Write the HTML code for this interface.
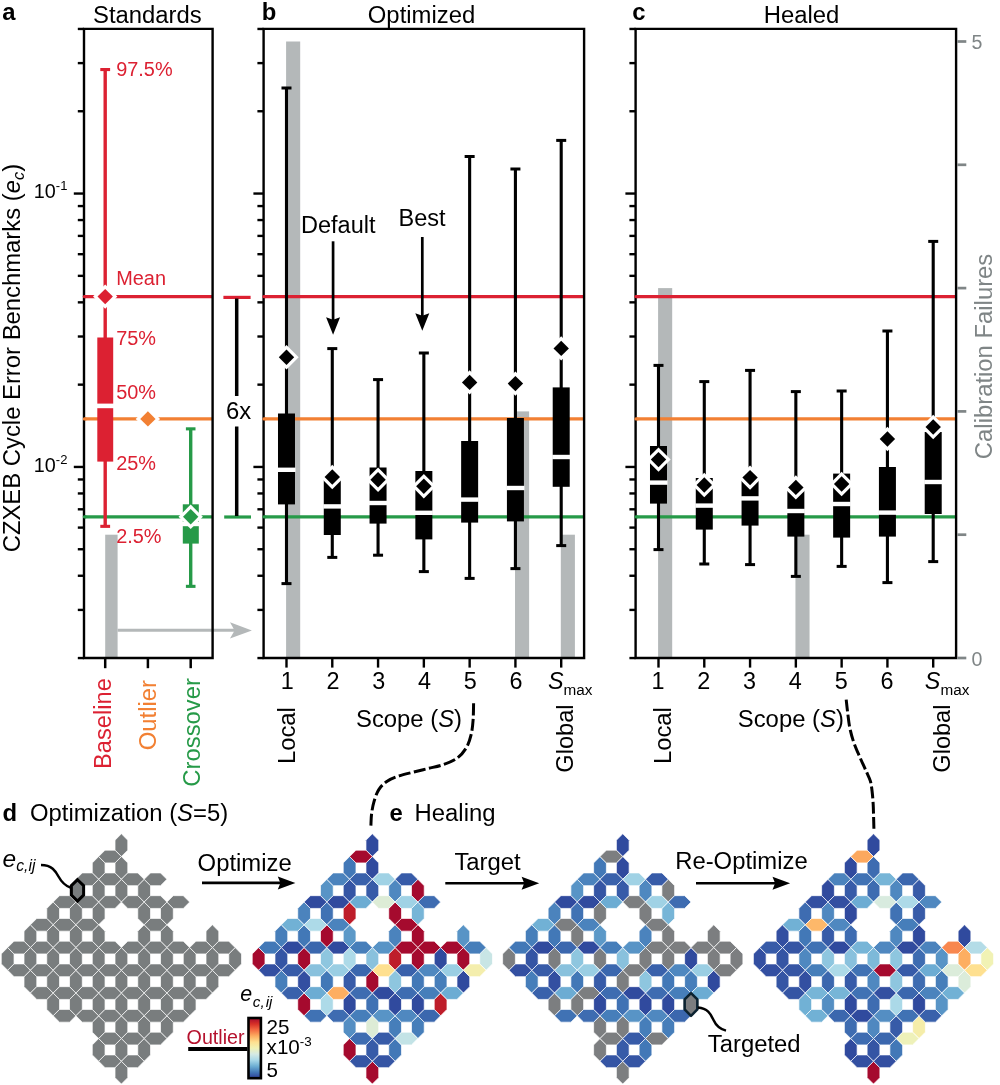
<!DOCTYPE html>
<html><head><meta charset="utf-8"><title>Figure</title>
<style>html,body{margin:0;padding:0;background:#fff}body{width:1000px;height:1085px;overflow:hidden;font-family:"Liberation Sans", sans-serif}svg text{font-family:"Liberation Sans", sans-serif}</style></head>
<body>
<svg width="1000" height="1085" viewBox="0 0 1000 1085" font-family='"Liberation Sans", sans-serif' style="display:block;will-change:transform">
<rect x="0" y="0" width="1000" height="1085" fill="#fff" />
<rect x="105.2" y="534.7" width="12.4" height="123.3" fill="#b4b8b9" />
<rect x="286.09" y="41.5" width="14.1" height="616.5" fill="#b4b8b9" />
<rect x="515.02" y="411.4" width="14.1" height="246.6" fill="#b4b8b9" />
<rect x="560.81" y="534.7" width="14.1" height="123.3" fill="#b4b8b9" />
<rect x="658.09" y="288.1" width="14.1" height="369.9" fill="#b4b8b9" />
<rect x="795.45" y="534.7" width="14.1" height="123.3" fill="#b4b8b9" />
<line x1="84" y1="296.6" x2="212.6" y2="296.6" stroke="#dc2132" stroke-width="3.3" />
<line x1="84" y1="418.9" x2="212.6" y2="418.9" stroke="#f28033" stroke-width="3.3" />
<line x1="84" y1="516.8" x2="212.6" y2="516.8" stroke="#269a48" stroke-width="3.3" />
<line x1="263.6" y1="296.6" x2="584.1" y2="296.6" stroke="#dc2132" stroke-width="3.3" />
<line x1="263.6" y1="418.9" x2="584.1" y2="418.9" stroke="#f28033" stroke-width="3.3" />
<line x1="263.6" y1="516.8" x2="584.1" y2="516.8" stroke="#269a48" stroke-width="3.3" />
<line x1="635.6" y1="296.6" x2="956.1" y2="296.6" stroke="#dc2132" stroke-width="3.3" />
<line x1="635.6" y1="418.9" x2="956.1" y2="418.9" stroke="#f28033" stroke-width="3.3" />
<line x1="635.6" y1="516.8" x2="956.1" y2="516.8" stroke="#269a48" stroke-width="3.3" />
<line x1="223.4" y1="297.4" x2="250.6" y2="297.4" stroke="#dc2132" stroke-width="3.2" />
<line x1="224.2" y1="517" x2="251" y2="517" stroke="#269a48" stroke-width="3.2" />
<line x1="236.7" y1="298.5" x2="236.7" y2="396" stroke="#000" stroke-width="3.5" />
<line x1="236.7" y1="426.5" x2="236.7" y2="516" stroke="#000" stroke-width="3.5" />
<text x="238.6" y="418.6" font-size="23.85" fill="#000" text-anchor="middle" >6x</text>
<line x1="117.6" y1="630.3" x2="236" y2="630.3" stroke="#b4b8b9" stroke-width="3" />
<polygon points="251.9,630.4 230,622.2 234.6,630.4 230,638.6" fill="#b4b8b9" />
<line x1="105.2" y1="69.5" x2="105.2" y2="526.3" stroke="#dc2132" stroke-width="3.4" />
<rect x="100.3" y="68" width="9.8" height="3.1" fill="#dc2132" />
<rect x="100.3" y="524.8" width="9.8" height="3.1" fill="#dc2132" />
<rect x="97.3" y="337.5" width="15.9" height="124.1" fill="#dc2132" />
<rect x="96.5" y="403.6" width="17.5" height="4.6" fill="#fff" />
<polygon points="105.2,284.4 117.4,296.6 105.2,308.8 93,296.6" fill="#fff" />
<polygon points="105.2,288.9 112.9,296.6 105.2,304.3 97.5,296.6" fill="#dc2132" />
<polygon points="147.9,406.7 160.1,418.9 147.9,431.1 135.7,418.9" fill="#fff" />
<polygon points="147.9,411.2 155.6,418.9 147.9,426.6 140.2,418.9" fill="#f28033" />
<line x1="190.7" y1="428.8" x2="190.7" y2="586.3" stroke="#269a48" stroke-width="3.4" />
<rect x="185.9" y="427.3" width="9.6" height="3.1" fill="#269a48" />
<rect x="185.9" y="584.8" width="9.6" height="3.1" fill="#269a48" />
<rect x="182.8" y="504.3" width="16" height="39.3" fill="#269a48" />
<rect x="182" y="521.8" width="17.6" height="4.4" fill="#fff" />
<polygon points="190.7,504.6 202.9,516.8 190.7,529 178.5,516.8" fill="#fff" />
<polygon points="190.7,509.1 198.4,516.8 190.7,524.5 183,516.8" fill="#269a48" />
<text x="116.2" y="76.3" font-size="19.9" fill="#dc2132" text-anchor="start" >97.5%</text>
<text x="116.2" y="284.9" font-size="19.9" fill="#dc2132" text-anchor="start" >Mean</text>
<text x="116.2" y="345.2" font-size="19.9" fill="#dc2132" text-anchor="start" >75%</text>
<text x="116.2" y="399" font-size="19.9" fill="#dc2132" text-anchor="start" >50%</text>
<text x="116.2" y="470" font-size="19.9" fill="#dc2132" text-anchor="start" >25%</text>
<text x="116.2" y="542.6" font-size="19.9" fill="#dc2132" text-anchor="start" >2.5%</text>
<line x1="286.49" y1="88" x2="286.49" y2="583.6" stroke="#000" stroke-width="3.1" />
<rect x="281.49" y="86.5" width="10" height="3" fill="#000" />
<rect x="281.49" y="582.1" width="10" height="3" fill="#000" />
<rect x="277.99" y="413.5" width="17" height="90.9" fill="#000" />
<rect x="277.49" y="467.6" width="18" height="4.4" fill="#fff" />
<polygon points="286.49,345.1 298.69,357.3 286.49,369.5 274.29,357.3" fill="#fff" />
<polygon points="286.49,349.6 294.19,357.3 286.49,365 278.79,357.3" fill="#000" />
<line x1="332.28" y1="348.6" x2="332.28" y2="557.4" stroke="#000" stroke-width="3.1" />
<rect x="327.28" y="347.1" width="10" height="3" fill="#000" />
<rect x="327.28" y="555.9" width="10" height="3" fill="#000" />
<rect x="323.78" y="480" width="17" height="55" fill="#000" />
<rect x="323.28" y="504.2" width="18" height="4.4" fill="#fff" />
<polygon points="332.28,464.8 344.48,477 332.28,489.2 320.08,477" fill="#fff" />
<polygon points="332.28,469.3 339.98,477 332.28,484.7 324.58,477" fill="#000" />
<line x1="378.06" y1="379.6" x2="378.06" y2="555.2" stroke="#000" stroke-width="3.1" />
<rect x="373.06" y="378.1" width="10" height="3" fill="#000" />
<rect x="373.06" y="553.7" width="10" height="3" fill="#000" />
<rect x="369.56" y="467.5" width="17" height="56.1" fill="#000" />
<rect x="369.06" y="500.8" width="18" height="4.4" fill="#fff" />
<polygon points="378.06,467.6 390.26,479.8 378.06,492 365.86,479.8" fill="#fff" />
<polygon points="378.06,472.1 385.76,479.8 378.06,487.5 370.36,479.8" fill="#000" />
<line x1="423.85" y1="353" x2="423.85" y2="571.6" stroke="#000" stroke-width="3.1" />
<rect x="418.85" y="351.5" width="10" height="3" fill="#000" />
<rect x="418.85" y="570.1" width="10" height="3" fill="#000" />
<rect x="415.35" y="471" width="17" height="68.4" fill="#000" />
<rect x="414.85" y="510.6" width="18" height="4.4" fill="#fff" />
<polygon points="423.85,474 436.05,486.2 423.85,498.4 411.65,486.2" fill="#fff" />
<polygon points="423.85,478.5 431.55,486.2 423.85,493.9 416.15,486.2" fill="#000" />
<line x1="469.64" y1="156.5" x2="469.64" y2="578.4" stroke="#000" stroke-width="3.1" />
<rect x="464.64" y="155" width="10" height="3" fill="#000" />
<rect x="464.64" y="576.9" width="10" height="3" fill="#000" />
<rect x="461.14" y="441" width="17" height="81.6" fill="#000" />
<rect x="460.64" y="497.4" width="18" height="4.4" fill="#fff" />
<polygon points="469.64,370.2 481.84,382.4 469.64,394.6 457.44,382.4" fill="#fff" />
<polygon points="469.64,374.7 477.34,382.4 469.64,390.1 461.94,382.4" fill="#000" />
<line x1="515.42" y1="169" x2="515.42" y2="568.6" stroke="#000" stroke-width="3.1" />
<rect x="510.42" y="167.5" width="10" height="3" fill="#000" />
<rect x="510.42" y="567.1" width="10" height="3" fill="#000" />
<rect x="506.92" y="418" width="17" height="103.4" fill="#000" />
<rect x="506.42" y="485.8" width="18" height="4.4" fill="#fff" />
<polygon points="515.42,371.4 527.62,383.6 515.42,395.8 503.22,383.6" fill="#fff" />
<polygon points="515.42,375.9 523.12,383.6 515.42,391.3 507.72,383.6" fill="#000" />
<line x1="561.21" y1="140.4" x2="561.21" y2="545.6" stroke="#000" stroke-width="3.1" />
<rect x="556.21" y="138.9" width="10" height="3" fill="#000" />
<rect x="556.21" y="544.1" width="10" height="3" fill="#000" />
<rect x="552.71" y="387.4" width="17" height="99.4" fill="#000" />
<rect x="552.21" y="454.8" width="18" height="4.4" fill="#fff" />
<polygon points="561.21,336.2 573.41,348.4 561.21,360.6 549.01,348.4" fill="#fff" />
<polygon points="561.21,340.7 568.91,348.4 561.21,356.1 553.51,348.4" fill="#000" />
<line x1="658.49" y1="365.4" x2="658.49" y2="549.6" stroke="#000" stroke-width="3.1" />
<rect x="653.49" y="363.9" width="10" height="3" fill="#000" />
<rect x="653.49" y="548.1" width="10" height="3" fill="#000" />
<rect x="649.99" y="446" width="17" height="57.6" fill="#000" />
<rect x="649.49" y="480.4" width="18" height="4.4" fill="#fff" />
<polygon points="658.49,447.4 670.69,459.6 658.49,471.8 646.29,459.6" fill="#fff" />
<polygon points="658.49,451.9 666.19,459.6 658.49,467.3 650.79,459.6" fill="#000" />
<line x1="704.28" y1="381.6" x2="704.28" y2="564" stroke="#000" stroke-width="3.1" />
<rect x="699.28" y="380.1" width="10" height="3" fill="#000" />
<rect x="699.28" y="562.5" width="10" height="3" fill="#000" />
<rect x="695.78" y="478" width="17" height="51.6" fill="#000" />
<rect x="695.28" y="503.4" width="18" height="4.4" fill="#fff" />
<polygon points="704.28,472.8 716.48,485 704.28,497.2 692.08,485" fill="#fff" />
<polygon points="704.28,477.3 711.98,485 704.28,492.7 696.58,485" fill="#000" />
<line x1="750.06" y1="370.4" x2="750.06" y2="564.6" stroke="#000" stroke-width="3.1" />
<rect x="745.06" y="368.9" width="10" height="3" fill="#000" />
<rect x="745.06" y="563.1" width="10" height="3" fill="#000" />
<rect x="741.56" y="480" width="17" height="45.6" fill="#000" />
<rect x="741.06" y="496.2" width="18" height="4.4" fill="#fff" />
<polygon points="750.06,465.4 762.26,477.6 750.06,489.8 737.86,477.6" fill="#fff" />
<polygon points="750.06,469.9 757.76,477.6 750.06,485.3 742.36,477.6" fill="#000" />
<line x1="795.85" y1="391.6" x2="795.85" y2="576.4" stroke="#000" stroke-width="3.1" />
<rect x="790.85" y="390.1" width="10" height="3" fill="#000" />
<rect x="790.85" y="574.9" width="10" height="3" fill="#000" />
<rect x="787.35" y="489" width="17" height="47.6" fill="#000" />
<rect x="786.85" y="508.8" width="18" height="4.4" fill="#fff" />
<polygon points="795.85,475.2 808.05,487.4 795.85,499.6 783.65,487.4" fill="#fff" />
<polygon points="795.85,479.7 803.55,487.4 795.85,495.1 788.15,487.4" fill="#000" />
<line x1="841.64" y1="391" x2="841.64" y2="566.4" stroke="#000" stroke-width="3.1" />
<rect x="836.64" y="389.5" width="10" height="3" fill="#000" />
<rect x="836.64" y="564.9" width="10" height="3" fill="#000" />
<rect x="833.14" y="473.6" width="17" height="64" fill="#000" />
<rect x="832.64" y="501.8" width="18" height="4.4" fill="#fff" />
<polygon points="841.64,471.8 853.84,484 841.64,496.2 829.44,484" fill="#fff" />
<polygon points="841.64,476.3 849.34,484 841.64,491.7 833.94,484" fill="#000" />
<line x1="887.42" y1="331" x2="887.42" y2="582.6" stroke="#000" stroke-width="3.1" />
<rect x="882.42" y="329.5" width="10" height="3" fill="#000" />
<rect x="882.42" y="581.1" width="10" height="3" fill="#000" />
<rect x="878.92" y="467" width="17" height="69.6" fill="#000" />
<rect x="878.42" y="510.4" width="18" height="4.4" fill="#fff" />
<polygon points="887.42,426.8 899.62,439 887.42,451.2 875.22,439" fill="#fff" />
<polygon points="887.42,431.3 895.12,439 887.42,446.7 879.72,439" fill="#000" />
<line x1="933.21" y1="241.4" x2="933.21" y2="561.6" stroke="#000" stroke-width="3.1" />
<rect x="928.21" y="239.9" width="10" height="3" fill="#000" />
<rect x="928.21" y="560.1" width="10" height="3" fill="#000" />
<rect x="924.71" y="432" width="17" height="82" fill="#000" />
<rect x="924.21" y="479.8" width="18" height="4.4" fill="#fff" />
<polygon points="933.21,414.8 945.41,427 933.21,439.2 921.01,427" fill="#fff" />
<polygon points="933.21,419.3 940.91,427 933.21,434.7 925.51,427" fill="#000" />
<text x="301" y="232.6" font-size="23.5" fill="#000" text-anchor="start" >Default</text>
<line x1="333.08" y1="241.3" x2="333.08" y2="320.8" stroke="#000" stroke-width="2.7" />
<polygon points="333.08,334.8 326.08,317.2 333.08,319.8 340.08,317.2" fill="#000" />
<text x="398.6" y="225.6" font-size="23.5" fill="#000" text-anchor="start" >Best</text>
<line x1="422.3" y1="237" x2="422.3" y2="316.8" stroke="#000" stroke-width="2.7" />
<polygon points="422.3,330.8 415.3,313.2 422.3,315.8 429.3,313.2" fill="#000" />
<path d="M84 658 L84 28.9 L212.6 28.9 L212.6 658 Z" fill="none" stroke="#000" stroke-width="2.4" stroke-linejoin="miter"/>
<line x1="77.8" y1="658.05" x2="84" y2="658.05" stroke="#000" stroke-width="2.4" />
<line x1="77.8" y1="609.91" x2="84" y2="609.91" stroke="#000" stroke-width="2.4" />
<line x1="77.8" y1="575.75" x2="84" y2="575.75" stroke="#000" stroke-width="2.4" />
<line x1="77.8" y1="549.25" x2="84" y2="549.25" stroke="#000" stroke-width="2.4" />
<line x1="77.8" y1="527.6" x2="84" y2="527.6" stroke="#000" stroke-width="2.4" />
<line x1="77.8" y1="509.3" x2="84" y2="509.3" stroke="#000" stroke-width="2.4" />
<line x1="77.8" y1="493.45" x2="84" y2="493.45" stroke="#000" stroke-width="2.4" />
<line x1="77.8" y1="479.46" x2="84" y2="479.46" stroke="#000" stroke-width="2.4" />
<line x1="73.8" y1="466.95" x2="84" y2="466.95" stroke="#000" stroke-width="2.4" />
<line x1="77.8" y1="384.65" x2="84" y2="384.65" stroke="#000" stroke-width="2.4" />
<line x1="77.8" y1="336.51" x2="84" y2="336.51" stroke="#000" stroke-width="2.4" />
<line x1="77.8" y1="302.35" x2="84" y2="302.35" stroke="#000" stroke-width="2.4" />
<line x1="77.8" y1="275.85" x2="84" y2="275.85" stroke="#000" stroke-width="2.4" />
<line x1="77.8" y1="254.2" x2="84" y2="254.2" stroke="#000" stroke-width="2.4" />
<line x1="77.8" y1="235.9" x2="84" y2="235.9" stroke="#000" stroke-width="2.4" />
<line x1="77.8" y1="220.05" x2="84" y2="220.05" stroke="#000" stroke-width="2.4" />
<line x1="77.8" y1="206.06" x2="84" y2="206.06" stroke="#000" stroke-width="2.4" />
<line x1="73.8" y1="193.55" x2="84" y2="193.55" stroke="#000" stroke-width="2.4" />
<line x1="77.8" y1="111.25" x2="84" y2="111.25" stroke="#000" stroke-width="2.4" />
<line x1="77.8" y1="63.11" x2="84" y2="63.11" stroke="#000" stroke-width="2.4" />
<line x1="77.8" y1="28.95" x2="84" y2="28.95" stroke="#000" stroke-width="2.4" />
<path d="M263.6 658 L263.6 28.9 L584.1 28.9 L584.1 658 Z" fill="none" stroke="#000" stroke-width="2.4" stroke-linejoin="miter"/>
<line x1="257.4" y1="658.05" x2="263.6" y2="658.05" stroke="#000" stroke-width="2.4" />
<line x1="257.4" y1="609.91" x2="263.6" y2="609.91" stroke="#000" stroke-width="2.4" />
<line x1="257.4" y1="575.75" x2="263.6" y2="575.75" stroke="#000" stroke-width="2.4" />
<line x1="257.4" y1="549.25" x2="263.6" y2="549.25" stroke="#000" stroke-width="2.4" />
<line x1="257.4" y1="527.6" x2="263.6" y2="527.6" stroke="#000" stroke-width="2.4" />
<line x1="257.4" y1="509.3" x2="263.6" y2="509.3" stroke="#000" stroke-width="2.4" />
<line x1="257.4" y1="493.45" x2="263.6" y2="493.45" stroke="#000" stroke-width="2.4" />
<line x1="257.4" y1="479.46" x2="263.6" y2="479.46" stroke="#000" stroke-width="2.4" />
<line x1="253.4" y1="466.95" x2="263.6" y2="466.95" stroke="#000" stroke-width="2.4" />
<line x1="257.4" y1="384.65" x2="263.6" y2="384.65" stroke="#000" stroke-width="2.4" />
<line x1="257.4" y1="336.51" x2="263.6" y2="336.51" stroke="#000" stroke-width="2.4" />
<line x1="257.4" y1="302.35" x2="263.6" y2="302.35" stroke="#000" stroke-width="2.4" />
<line x1="257.4" y1="275.85" x2="263.6" y2="275.85" stroke="#000" stroke-width="2.4" />
<line x1="257.4" y1="254.2" x2="263.6" y2="254.2" stroke="#000" stroke-width="2.4" />
<line x1="257.4" y1="235.9" x2="263.6" y2="235.9" stroke="#000" stroke-width="2.4" />
<line x1="257.4" y1="220.05" x2="263.6" y2="220.05" stroke="#000" stroke-width="2.4" />
<line x1="257.4" y1="206.06" x2="263.6" y2="206.06" stroke="#000" stroke-width="2.4" />
<line x1="253.4" y1="193.55" x2="263.6" y2="193.55" stroke="#000" stroke-width="2.4" />
<line x1="257.4" y1="111.25" x2="263.6" y2="111.25" stroke="#000" stroke-width="2.4" />
<line x1="257.4" y1="63.11" x2="263.6" y2="63.11" stroke="#000" stroke-width="2.4" />
<line x1="257.4" y1="28.95" x2="263.6" y2="28.95" stroke="#000" stroke-width="2.4" />
<path d="M635.6 658 L635.6 28.9 L956.1 28.9 L956.1 658 Z" fill="none" stroke="#000" stroke-width="2.4" stroke-linejoin="miter"/>
<line x1="629.4" y1="658.05" x2="635.6" y2="658.05" stroke="#000" stroke-width="2.4" />
<line x1="629.4" y1="609.91" x2="635.6" y2="609.91" stroke="#000" stroke-width="2.4" />
<line x1="629.4" y1="575.75" x2="635.6" y2="575.75" stroke="#000" stroke-width="2.4" />
<line x1="629.4" y1="549.25" x2="635.6" y2="549.25" stroke="#000" stroke-width="2.4" />
<line x1="629.4" y1="527.6" x2="635.6" y2="527.6" stroke="#000" stroke-width="2.4" />
<line x1="629.4" y1="509.3" x2="635.6" y2="509.3" stroke="#000" stroke-width="2.4" />
<line x1="629.4" y1="493.45" x2="635.6" y2="493.45" stroke="#000" stroke-width="2.4" />
<line x1="629.4" y1="479.46" x2="635.6" y2="479.46" stroke="#000" stroke-width="2.4" />
<line x1="625.4" y1="466.95" x2="635.6" y2="466.95" stroke="#000" stroke-width="2.4" />
<line x1="629.4" y1="384.65" x2="635.6" y2="384.65" stroke="#000" stroke-width="2.4" />
<line x1="629.4" y1="336.51" x2="635.6" y2="336.51" stroke="#000" stroke-width="2.4" />
<line x1="629.4" y1="302.35" x2="635.6" y2="302.35" stroke="#000" stroke-width="2.4" />
<line x1="629.4" y1="275.85" x2="635.6" y2="275.85" stroke="#000" stroke-width="2.4" />
<line x1="629.4" y1="254.2" x2="635.6" y2="254.2" stroke="#000" stroke-width="2.4" />
<line x1="629.4" y1="235.9" x2="635.6" y2="235.9" stroke="#000" stroke-width="2.4" />
<line x1="629.4" y1="220.05" x2="635.6" y2="220.05" stroke="#000" stroke-width="2.4" />
<line x1="629.4" y1="206.06" x2="635.6" y2="206.06" stroke="#000" stroke-width="2.4" />
<line x1="625.4" y1="193.55" x2="635.6" y2="193.55" stroke="#000" stroke-width="2.4" />
<line x1="629.4" y1="111.25" x2="635.6" y2="111.25" stroke="#000" stroke-width="2.4" />
<line x1="629.4" y1="63.11" x2="635.6" y2="63.11" stroke="#000" stroke-width="2.4" />
<line x1="629.4" y1="28.95" x2="635.6" y2="28.95" stroke="#000" stroke-width="2.4" />
<line x1="84.4" y1="296.6" x2="85.4" y2="296.6" stroke="#dc2132" stroke-width="3.3" stroke-linecap="round"/>
<line x1="84.4" y1="418.9" x2="85.4" y2="418.9" stroke="#f28033" stroke-width="3.3" stroke-linecap="round"/>
<line x1="84.4" y1="516.8" x2="85.4" y2="516.8" stroke="#269a48" stroke-width="3.3" stroke-linecap="round"/>
<line x1="264" y1="296.6" x2="265" y2="296.6" stroke="#dc2132" stroke-width="3.3" stroke-linecap="round"/>
<line x1="264" y1="418.9" x2="265" y2="418.9" stroke="#f28033" stroke-width="3.3" stroke-linecap="round"/>
<line x1="264" y1="516.8" x2="265" y2="516.8" stroke="#269a48" stroke-width="3.3" stroke-linecap="round"/>
<line x1="636" y1="296.6" x2="637" y2="296.6" stroke="#dc2132" stroke-width="3.3" stroke-linecap="round"/>
<line x1="636" y1="418.9" x2="637" y2="418.9" stroke="#f28033" stroke-width="3.3" stroke-linecap="round"/>
<line x1="636" y1="516.8" x2="637" y2="516.8" stroke="#269a48" stroke-width="3.3" stroke-linecap="round"/>
<line x1="105.2" y1="658" x2="105.2" y2="668.2" stroke="#000" stroke-width="2.5" />
<line x1="147.9" y1="658" x2="147.9" y2="668.2" stroke="#000" stroke-width="2.5" />
<line x1="190.7" y1="658" x2="190.7" y2="668.2" stroke="#000" stroke-width="2.5" />
<line x1="286.49" y1="658" x2="286.49" y2="667.6" stroke="#000" stroke-width="2.4" />
<line x1="658.49" y1="658" x2="658.49" y2="667.6" stroke="#000" stroke-width="2.4" />
<line x1="332.28" y1="658" x2="332.28" y2="667.6" stroke="#000" stroke-width="2.4" />
<line x1="704.28" y1="658" x2="704.28" y2="667.6" stroke="#000" stroke-width="2.4" />
<line x1="378.06" y1="658" x2="378.06" y2="667.6" stroke="#000" stroke-width="2.4" />
<line x1="750.06" y1="658" x2="750.06" y2="667.6" stroke="#000" stroke-width="2.4" />
<line x1="423.85" y1="658" x2="423.85" y2="667.6" stroke="#000" stroke-width="2.4" />
<line x1="795.85" y1="658" x2="795.85" y2="667.6" stroke="#000" stroke-width="2.4" />
<line x1="469.64" y1="658" x2="469.64" y2="667.6" stroke="#000" stroke-width="2.4" />
<line x1="841.64" y1="658" x2="841.64" y2="667.6" stroke="#000" stroke-width="2.4" />
<line x1="515.42" y1="658" x2="515.42" y2="667.6" stroke="#000" stroke-width="2.4" />
<line x1="887.42" y1="658" x2="887.42" y2="667.6" stroke="#000" stroke-width="2.4" />
<line x1="561.21" y1="658" x2="561.21" y2="667.6" stroke="#000" stroke-width="2.4" />
<line x1="933.21" y1="658" x2="933.21" y2="667.6" stroke="#000" stroke-width="2.4" />
<line x1="957.3" y1="658" x2="966.3" y2="658" stroke="#7f8586" stroke-width="2.7" />
<line x1="957.3" y1="534.7" x2="966.3" y2="534.7" stroke="#7f8586" stroke-width="2.7" />
<line x1="957.3" y1="411.4" x2="966.3" y2="411.4" stroke="#7f8586" stroke-width="2.7" />
<line x1="957.3" y1="288.1" x2="966.3" y2="288.1" stroke="#7f8586" stroke-width="2.7" />
<line x1="957.3" y1="164.8" x2="966.3" y2="164.8" stroke="#7f8586" stroke-width="2.7" />
<line x1="957.3" y1="41.5" x2="966.3" y2="41.5" stroke="#7f8586" stroke-width="2.7" />
<text x="971.6" y="665.6" font-size="19.6" fill="#7f8586" text-anchor="start" >0</text>
<text x="971.6" y="49" font-size="19.6" fill="#7f8586" text-anchor="start" >5</text>
<text x="991.6" y="356.4" font-size="23.85" fill="#7f8586" text-anchor="middle" transform="rotate(-90 991.6 356.4)" >Calibration Failures</text>
<text x="67.4" y="197.9" font-size="19.8" text-anchor="end">10<tspan font-size="13.0" dy="-7.8">-1</tspan></text>
<text x="67.4" y="471.8" font-size="19.8" text-anchor="end">10<tspan font-size="13.0" dy="-7.8">-2</tspan></text>
<text x="2.2" y="19.9" font-size="23.85" fill="#000" text-anchor="start" font-weight="bold">a</text>
<text x="147.4" y="22.8" font-size="23.85" fill="#000" text-anchor="middle" >Standards</text>
<text x="261.8" y="19.9" font-size="23.85" fill="#000" text-anchor="start" font-weight="bold">b</text>
<text x="421.5" y="22.8" font-size="23.85" fill="#000" text-anchor="middle" >Optimized</text>
<text x="632.2" y="19.9" font-size="23.85" fill="#000" text-anchor="start" font-weight="bold">c</text>
<text x="801.5" y="22.8" font-size="23.85" fill="#000" text-anchor="middle" >Healed</text>
<text x="19.8" y="358.1" font-size="23.85" text-anchor="middle" transform="rotate(-90 19.8 358.1)">CZXEB Cycle Error Benchmarks (<tspan font-style="italic">e</tspan><tspan font-style="italic" font-size="16.4" dy="4.2">c</tspan><tspan dy="-4.2">)</tspan></text>
<text x="111.1" y="678.2" font-size="23.65" fill="#dc2132" text-anchor="end" transform="rotate(-90 111.1 678.2)" >Baseline</text>
<text x="156.3" y="680" font-size="23.85" fill="#f28033" text-anchor="end" transform="rotate(-90 156.3 680)" >Outlier</text>
<text x="200.2" y="678" font-size="23.85" fill="#269a48" text-anchor="end" transform="rotate(-90 200.2 678)" >Crossover</text>
<text x="287.19" y="689.1" font-size="23.4" fill="#000" text-anchor="middle" >1</text>
<text x="332.98" y="689.1" font-size="23.4" fill="#000" text-anchor="middle" >2</text>
<text x="378.76" y="689.1" font-size="23.4" fill="#000" text-anchor="middle" >3</text>
<text x="424.55" y="689.1" font-size="23.4" fill="#000" text-anchor="middle" >4</text>
<text x="470.34" y="689.1" font-size="23.4" fill="#000" text-anchor="middle" >5</text>
<text x="516.12" y="689.1" font-size="23.4" fill="#000" text-anchor="middle" >6</text>
<text x="548.01" y="689.3" font-size="23.4"><tspan font-style="italic">S</tspan><tspan font-size="15.3" dy="5.5">max</tspan></text>
<text x="295.19" y="764.1" font-size="23.85" fill="#000" text-anchor="start" transform="rotate(-90 295.19 764.1)" >Local</text>
<text x="572.91" y="772.7" font-size="23.6" fill="#000" text-anchor="start" transform="rotate(-90 572.91 772.7)" >Global</text>
<text x="657.99" y="689.1" font-size="23.4" fill="#000" text-anchor="middle" >1</text>
<text x="703.78" y="689.1" font-size="23.4" fill="#000" text-anchor="middle" >2</text>
<text x="749.56" y="689.1" font-size="23.4" fill="#000" text-anchor="middle" >3</text>
<text x="795.35" y="689.1" font-size="23.4" fill="#000" text-anchor="middle" >4</text>
<text x="841.14" y="689.1" font-size="23.4" fill="#000" text-anchor="middle" >5</text>
<text x="886.92" y="689.1" font-size="23.4" fill="#000" text-anchor="middle" >6</text>
<text x="924.81" y="689.3" font-size="23.4"><tspan font-style="italic">S</tspan><tspan font-size="15.3" dy="5.5">max</tspan></text>
<text x="671.39" y="764.1" font-size="23.85" fill="#000" text-anchor="start" transform="rotate(-90 671.39 764.1)" >Local</text>
<text x="950.31" y="772.7" font-size="23.6" fill="#000" text-anchor="start" transform="rotate(-90 950.31 772.7)" >Global</text>
<text x="356" y="726.7" font-size="23.85">Scope (<tspan font-style="italic">S</tspan>)</text>
<text x="737.8" y="726.7" font-size="23.85">Scope (<tspan font-style="italic">S</tspan>)</text>
<path d="M473.6 703.2 C473.52 706 473.5 714.8 473.1 720 C472.7 725.2 472.32 729.8 471.2 734.4 C470.08 739 468.8 743.6 466.4 747.6 C464 751.6 460.8 755.52 456.8 758.4 C452.8 761.28 447.2 763.22 442.4 764.9 C437.6 766.58 432.8 767.3 428 768.5 C423.2 769.7 418.4 770.87 413.6 772.1 C408.8 773.33 403.6 774.38 399.2 775.9 C394.8 777.42 390.6 778.92 387.2 781.2 C383.8 783.48 381 786.2 378.8 789.6 C376.6 793 375.2 797.6 374 801.6 C372.8 805.6 372.12 809.6 371.6 813.6 C371.08 817.6 371.02 823.6 370.9 825.6" fill="none" stroke="#000" stroke-width="3.0" stroke-dasharray="12.03 3.5"/>
<path d="M846.2 699.7 C846.43 701.77 847.02 707.5 847.6 712.1 C848.18 716.7 848.67 722.23 849.7 727.3 C850.73 732.37 852.07 737.43 853.8 742.5 C855.53 747.57 858.02 752.87 860.1 757.7 C862.18 762.53 864.58 767.58 866.3 771.5 C868.02 775.42 869.42 777.75 870.4 781.2 C871.38 784.65 871.73 788.3 872.2 792.2 C872.67 796.1 872.97 800.45 873.2 804.6 C873.43 808.75 873.48 813.07 873.6 817.1 C873.72 821.13 873.85 826.85 873.9 828.8" fill="none" stroke="#000" stroke-width="3.0" stroke-dasharray="11.72 3.5"/>
<g>
<polygon points="121.4,833.8 127.78,840.17 127.78,850.17 121.4,856.55 115.03,850.17 115.03,840.17" fill="#797d7e" stroke="#fff" stroke-width="0.7" stroke-linejoin="miter"/>
<polygon points="98.65,856.55 105.03,862.92 105.03,872.92 98.65,879.3 92.28,872.92 92.28,862.92" fill="#797d7e" stroke="#fff" stroke-width="0.7" stroke-linejoin="miter"/>
<polygon points="121.4,856.55 127.78,862.92 127.78,872.92 121.4,879.3 115.03,872.92 115.03,862.92" fill="#797d7e" stroke="#fff" stroke-width="0.7" stroke-linejoin="miter"/>
<polygon points="75.9,879.3 82.28,885.67 82.28,895.67 75.9,902.05 69.53,895.67 69.53,885.67" fill="#797d7e" stroke="#fff" stroke-width="0.7" stroke-linejoin="miter"/>
<polygon points="98.65,879.3 105.03,885.67 105.03,895.67 98.65,902.05 92.28,895.67 92.28,885.67" fill="#797d7e" stroke="#fff" stroke-width="0.7" stroke-linejoin="miter"/>
<polygon points="121.4,879.3 127.78,885.67 127.78,895.67 121.4,902.05 115.03,895.67 115.03,885.67" fill="#797d7e" stroke="#fff" stroke-width="0.7" stroke-linejoin="miter"/>
<polygon points="144.15,879.3 150.53,885.67 150.53,895.67 144.15,902.05 137.78,895.67 137.78,885.67" fill="#797d7e" stroke="#fff" stroke-width="0.7" stroke-linejoin="miter"/>
<polygon points="53.15,902.05 59.52,908.42 59.52,918.42 53.15,924.8 46.77,918.42 46.77,908.42" fill="#797d7e" stroke="#fff" stroke-width="0.7" stroke-linejoin="miter"/>
<polygon points="75.9,902.05 82.28,908.42 82.28,918.42 75.9,924.8 69.53,918.42 69.53,908.42" fill="#797d7e" stroke="#fff" stroke-width="0.7" stroke-linejoin="miter"/>
<polygon points="98.65,902.05 105.03,908.42 105.03,918.42 98.65,924.8 92.28,918.42 92.28,908.42" fill="#797d7e" stroke="#fff" stroke-width="0.7" stroke-linejoin="miter"/>
<polygon points="144.15,902.05 150.53,908.42 150.53,918.42 144.15,924.8 137.78,918.42 137.78,908.42" fill="#797d7e" stroke="#fff" stroke-width="0.7" stroke-linejoin="miter"/>
<polygon points="166.9,902.05 173.28,908.42 173.28,918.42 166.9,924.8 160.53,918.42 160.53,908.42" fill="#797d7e" stroke="#fff" stroke-width="0.7" stroke-linejoin="miter"/>
<polygon points="30.4,924.8 36.77,931.17 36.77,941.17 30.4,947.55 24.02,941.17 24.02,931.17" fill="#797d7e" stroke="#fff" stroke-width="0.7" stroke-linejoin="miter"/>
<polygon points="53.15,924.8 59.52,931.17 59.52,941.17 53.15,947.55 46.77,941.17 46.77,931.17" fill="#797d7e" stroke="#fff" stroke-width="0.7" stroke-linejoin="miter"/>
<polygon points="75.9,924.8 82.28,931.17 82.28,941.17 75.9,947.55 69.53,941.17 69.53,931.17" fill="#797d7e" stroke="#fff" stroke-width="0.7" stroke-linejoin="miter"/>
<polygon points="98.65,924.8 105.03,931.17 105.03,941.17 98.65,947.55 92.28,941.17 92.28,931.17" fill="#797d7e" stroke="#fff" stroke-width="0.7" stroke-linejoin="miter"/>
<polygon points="144.15,924.8 150.53,931.17 150.53,941.17 144.15,947.55 137.78,941.17 137.78,931.17" fill="#797d7e" stroke="#fff" stroke-width="0.7" stroke-linejoin="miter"/>
<polygon points="166.9,924.8 173.28,931.17 173.28,941.17 166.9,947.55 160.53,941.17 160.53,931.17" fill="#797d7e" stroke="#fff" stroke-width="0.7" stroke-linejoin="miter"/>
<polygon points="212.4,924.8 218.78,931.17 218.78,941.17 212.4,947.55 206.03,941.17 206.03,931.17" fill="#797d7e" stroke="#fff" stroke-width="0.7" stroke-linejoin="miter"/>
<polygon points="7.65,947.55 14.03,953.92 14.03,963.92 7.65,970.3 1.28,963.92 1.28,953.92" fill="#797d7e" stroke="#fff" stroke-width="0.7" stroke-linejoin="miter"/>
<polygon points="30.4,947.55 36.77,953.92 36.77,963.92 30.4,970.3 24.02,963.92 24.02,953.92" fill="#797d7e" stroke="#fff" stroke-width="0.7" stroke-linejoin="miter"/>
<polygon points="53.15,947.55 59.52,953.92 59.52,963.92 53.15,970.3 46.77,963.92 46.77,953.92" fill="#797d7e" stroke="#fff" stroke-width="0.7" stroke-linejoin="miter"/>
<polygon points="75.9,947.55 82.28,953.92 82.28,963.92 75.9,970.3 69.53,963.92 69.53,953.92" fill="#797d7e" stroke="#fff" stroke-width="0.7" stroke-linejoin="miter"/>
<polygon points="98.65,947.55 105.03,953.92 105.03,963.92 98.65,970.3 92.28,963.92 92.28,953.92" fill="#797d7e" stroke="#fff" stroke-width="0.7" stroke-linejoin="miter"/>
<polygon points="121.4,947.55 127.78,953.92 127.78,963.92 121.4,970.3 115.03,963.92 115.03,953.92" fill="#797d7e" stroke="#fff" stroke-width="0.7" stroke-linejoin="miter"/>
<polygon points="144.15,947.55 150.53,953.92 150.53,963.92 144.15,970.3 137.78,963.92 137.78,953.92" fill="#797d7e" stroke="#fff" stroke-width="0.7" stroke-linejoin="miter"/>
<polygon points="166.9,947.55 173.28,953.92 173.28,963.92 166.9,970.3 160.53,963.92 160.53,953.92" fill="#797d7e" stroke="#fff" stroke-width="0.7" stroke-linejoin="miter"/>
<polygon points="189.65,947.55 196.03,953.92 196.03,963.92 189.65,970.3 183.28,963.92 183.28,953.92" fill="#797d7e" stroke="#fff" stroke-width="0.7" stroke-linejoin="miter"/>
<polygon points="212.4,947.55 218.78,953.92 218.78,963.92 212.4,970.3 206.03,963.92 206.03,953.92" fill="#797d7e" stroke="#fff" stroke-width="0.7" stroke-linejoin="miter"/>
<polygon points="235.15,947.55 241.53,953.92 241.53,963.92 235.15,970.3 228.78,963.92 228.78,953.92" fill="#797d7e" stroke="#fff" stroke-width="0.7" stroke-linejoin="miter"/>
<polygon points="30.4,970.3 36.77,976.67 36.77,986.67 30.4,993.05 24.02,986.67 24.02,976.67" fill="#797d7e" stroke="#fff" stroke-width="0.7" stroke-linejoin="miter"/>
<polygon points="53.15,970.3 59.52,976.67 59.52,986.67 53.15,993.05 46.77,986.67 46.77,976.67" fill="#797d7e" stroke="#fff" stroke-width="0.7" stroke-linejoin="miter"/>
<polygon points="75.9,970.3 82.28,976.67 82.28,986.67 75.9,993.05 69.53,986.67 69.53,976.67" fill="#797d7e" stroke="#fff" stroke-width="0.7" stroke-linejoin="miter"/>
<polygon points="98.65,970.3 105.03,976.67 105.03,986.67 98.65,993.05 92.28,986.67 92.28,976.67" fill="#797d7e" stroke="#fff" stroke-width="0.7" stroke-linejoin="miter"/>
<polygon points="121.4,970.3 127.78,976.67 127.78,986.67 121.4,993.05 115.03,986.67 115.03,976.67" fill="#797d7e" stroke="#fff" stroke-width="0.7" stroke-linejoin="miter"/>
<polygon points="144.15,970.3 150.53,976.67 150.53,986.67 144.15,993.05 137.78,986.67 137.78,976.67" fill="#797d7e" stroke="#fff" stroke-width="0.7" stroke-linejoin="miter"/>
<polygon points="166.9,970.3 173.28,976.67 173.28,986.67 166.9,993.05 160.53,986.67 160.53,976.67" fill="#797d7e" stroke="#fff" stroke-width="0.7" stroke-linejoin="miter"/>
<polygon points="189.65,970.3 196.03,976.67 196.03,986.67 189.65,993.05 183.28,986.67 183.28,976.67" fill="#797d7e" stroke="#fff" stroke-width="0.7" stroke-linejoin="miter"/>
<polygon points="212.4,970.3 218.78,976.67 218.78,986.67 212.4,993.05 206.03,986.67 206.03,976.67" fill="#797d7e" stroke="#fff" stroke-width="0.7" stroke-linejoin="miter"/>
<polygon points="53.15,993.05 59.52,999.42 59.52,1009.42 53.15,1015.8 46.77,1009.42 46.77,999.42" fill="#797d7e" stroke="#fff" stroke-width="0.7" stroke-linejoin="miter"/>
<polygon points="75.9,993.05 82.28,999.42 82.28,1009.42 75.9,1015.8 69.53,1009.42 69.53,999.42" fill="#797d7e" stroke="#fff" stroke-width="0.7" stroke-linejoin="miter"/>
<polygon points="98.65,993.05 105.03,999.42 105.03,1009.42 98.65,1015.8 92.28,1009.42 92.28,999.42" fill="#797d7e" stroke="#fff" stroke-width="0.7" stroke-linejoin="miter"/>
<polygon points="121.4,993.05 127.78,999.42 127.78,1009.42 121.4,1015.8 115.03,1009.42 115.03,999.42" fill="#797d7e" stroke="#fff" stroke-width="0.7" stroke-linejoin="miter"/>
<polygon points="144.15,993.05 150.53,999.42 150.53,1009.42 144.15,1015.8 137.78,1009.42 137.78,999.42" fill="#797d7e" stroke="#fff" stroke-width="0.7" stroke-linejoin="miter"/>
<polygon points="166.9,993.05 173.28,999.42 173.28,1009.42 166.9,1015.8 160.53,1009.42 160.53,999.42" fill="#797d7e" stroke="#fff" stroke-width="0.7" stroke-linejoin="miter"/>
<polygon points="189.65,993.05 196.03,999.42 196.03,1009.42 189.65,1015.8 183.28,1009.42 183.28,999.42" fill="#797d7e" stroke="#fff" stroke-width="0.7" stroke-linejoin="miter"/>
<polygon points="98.65,1015.8 105.03,1022.17 105.03,1032.17 98.65,1038.55 92.28,1032.17 92.28,1022.17" fill="#797d7e" stroke="#fff" stroke-width="0.7" stroke-linejoin="miter"/>
<polygon points="121.4,1015.8 127.78,1022.17 127.78,1032.17 121.4,1038.55 115.03,1032.17 115.03,1022.17" fill="#797d7e" stroke="#fff" stroke-width="0.7" stroke-linejoin="miter"/>
<polygon points="144.15,1015.8 150.53,1022.17 150.53,1032.17 144.15,1038.55 137.78,1032.17 137.78,1022.17" fill="#797d7e" stroke="#fff" stroke-width="0.7" stroke-linejoin="miter"/>
<polygon points="166.9,1015.8 173.28,1022.17 173.28,1032.17 166.9,1038.55 160.53,1032.17 160.53,1022.17" fill="#797d7e" stroke="#fff" stroke-width="0.7" stroke-linejoin="miter"/>
<polygon points="98.65,1038.55 105.03,1044.92 105.03,1054.92 98.65,1061.3 92.28,1054.92 92.28,1044.92" fill="#797d7e" stroke="#fff" stroke-width="0.7" stroke-linejoin="miter"/>
<polygon points="121.4,1038.55 127.78,1044.92 127.78,1054.92 121.4,1061.3 115.03,1054.92 115.03,1044.92" fill="#797d7e" stroke="#fff" stroke-width="0.7" stroke-linejoin="miter"/>
<polygon points="144.15,1038.55 150.53,1044.92 150.53,1054.92 144.15,1061.3 137.78,1054.92 137.78,1044.92" fill="#797d7e" stroke="#fff" stroke-width="0.7" stroke-linejoin="miter"/>
<polygon points="121.4,1061.3 127.78,1067.67 127.78,1077.67 121.4,1084.05 115.03,1077.67 115.03,1067.67" fill="#797d7e" stroke="#fff" stroke-width="0.7" stroke-linejoin="miter"/>
<polygon points="98.65,856.55 105.03,850.17 115.03,850.17 121.4,856.55 115.03,862.92 105.03,862.92" fill="#797d7e" stroke="#fff" stroke-width="0.7" stroke-linejoin="miter"/>
<polygon points="75.9,879.3 82.28,872.92 92.28,872.92 98.65,879.3 92.28,885.67 82.28,885.67" fill="#797d7e" stroke="#fff" stroke-width="0.7" stroke-linejoin="miter"/>
<polygon points="98.65,879.3 105.03,872.92 115.03,872.92 121.4,879.3 115.03,885.67 105.03,885.67" fill="#797d7e" stroke="#fff" stroke-width="0.7" stroke-linejoin="miter"/>
<polygon points="121.4,879.3 127.78,872.92 137.78,872.92 144.15,879.3 137.78,885.67 127.78,885.67" fill="#797d7e" stroke="#fff" stroke-width="0.7" stroke-linejoin="miter"/>
<polygon points="144.15,879.3 150.53,872.92 160.53,872.92 166.9,879.3 160.53,885.67 150.53,885.67" fill="#797d7e" stroke="#fff" stroke-width="0.7" stroke-linejoin="miter"/>
<polygon points="53.15,902.05 59.52,895.67 69.53,895.67 75.9,902.05 69.53,908.42 59.52,908.42" fill="#797d7e" stroke="#fff" stroke-width="0.7" stroke-linejoin="miter"/>
<polygon points="75.9,902.05 82.28,895.67 92.28,895.67 98.65,902.05 92.28,908.42 82.28,908.42" fill="#797d7e" stroke="#fff" stroke-width="0.7" stroke-linejoin="miter"/>
<polygon points="98.65,902.05 105.03,895.67 115.03,895.67 121.4,902.05 115.03,908.42 105.03,908.42" fill="#797d7e" stroke="#fff" stroke-width="0.7" stroke-linejoin="miter"/>
<polygon points="121.4,902.05 127.78,895.67 137.78,895.67 144.15,902.05 137.78,908.42 127.78,908.42" fill="#797d7e" stroke="#fff" stroke-width="0.7" stroke-linejoin="miter"/>
<polygon points="144.15,902.05 150.53,895.67 160.53,895.67 166.9,902.05 160.53,908.42 150.53,908.42" fill="#797d7e" stroke="#fff" stroke-width="0.7" stroke-linejoin="miter"/>
<polygon points="166.9,902.05 173.28,895.67 183.28,895.67 189.65,902.05 183.28,908.42 173.28,908.42" fill="#797d7e" stroke="#fff" stroke-width="0.7" stroke-linejoin="miter"/>
<polygon points="30.4,924.8 36.77,918.42 46.77,918.42 53.15,924.8 46.77,931.17 36.77,931.17" fill="#797d7e" stroke="#fff" stroke-width="0.7" stroke-linejoin="miter"/>
<polygon points="53.15,924.8 59.52,918.42 69.53,918.42 75.9,924.8 69.53,931.17 59.52,931.17" fill="#797d7e" stroke="#fff" stroke-width="0.7" stroke-linejoin="miter"/>
<polygon points="75.9,924.8 82.28,918.42 92.28,918.42 98.65,924.8 92.28,931.17 82.28,931.17" fill="#797d7e" stroke="#fff" stroke-width="0.7" stroke-linejoin="miter"/>
<polygon points="144.15,924.8 150.53,918.42 160.53,918.42 166.9,924.8 160.53,931.17 150.53,931.17" fill="#797d7e" stroke="#fff" stroke-width="0.7" stroke-linejoin="miter"/>
<polygon points="7.65,947.55 14.03,941.17 24.02,941.17 30.4,947.55 24.02,953.92 14.03,953.92" fill="#797d7e" stroke="#fff" stroke-width="0.7" stroke-linejoin="miter"/>
<polygon points="30.4,947.55 36.77,941.17 46.77,941.17 53.15,947.55 46.77,953.92 36.77,953.92" fill="#797d7e" stroke="#fff" stroke-width="0.7" stroke-linejoin="miter"/>
<polygon points="53.15,947.55 59.52,941.17 69.53,941.17 75.9,947.55 69.53,953.92 59.52,953.92" fill="#797d7e" stroke="#fff" stroke-width="0.7" stroke-linejoin="miter"/>
<polygon points="75.9,947.55 82.28,941.17 92.28,941.17 98.65,947.55 92.28,953.92 82.28,953.92" fill="#797d7e" stroke="#fff" stroke-width="0.7" stroke-linejoin="miter"/>
<polygon points="98.65,947.55 105.03,941.17 115.03,941.17 121.4,947.55 115.03,953.92 105.03,953.92" fill="#797d7e" stroke="#fff" stroke-width="0.7" stroke-linejoin="miter"/>
<polygon points="121.4,947.55 127.78,941.17 137.78,941.17 144.15,947.55 137.78,953.92 127.78,953.92" fill="#797d7e" stroke="#fff" stroke-width="0.7" stroke-linejoin="miter"/>
<polygon points="144.15,947.55 150.53,941.17 160.53,941.17 166.9,947.55 160.53,953.92 150.53,953.92" fill="#797d7e" stroke="#fff" stroke-width="0.7" stroke-linejoin="miter"/>
<polygon points="166.9,947.55 173.28,941.17 183.28,941.17 189.65,947.55 183.28,953.92 173.28,953.92" fill="#797d7e" stroke="#fff" stroke-width="0.7" stroke-linejoin="miter"/>
<polygon points="189.65,947.55 196.03,941.17 206.03,941.17 212.4,947.55 206.03,953.92 196.03,953.92" fill="#797d7e" stroke="#fff" stroke-width="0.7" stroke-linejoin="miter"/>
<polygon points="212.4,947.55 218.78,941.17 228.78,941.17 235.15,947.55 228.78,953.92 218.78,953.92" fill="#797d7e" stroke="#fff" stroke-width="0.7" stroke-linejoin="miter"/>
<polygon points="7.65,970.3 14.03,963.92 24.02,963.92 30.4,970.3 24.02,976.67 14.03,976.67" fill="#797d7e" stroke="#fff" stroke-width="0.7" stroke-linejoin="miter"/>
<polygon points="30.4,970.3 36.77,963.92 46.77,963.92 53.15,970.3 46.77,976.67 36.77,976.67" fill="#797d7e" stroke="#fff" stroke-width="0.7" stroke-linejoin="miter"/>
<polygon points="53.15,970.3 59.52,963.92 69.53,963.92 75.9,970.3 69.53,976.67 59.52,976.67" fill="#797d7e" stroke="#fff" stroke-width="0.7" stroke-linejoin="miter"/>
<polygon points="75.9,970.3 82.28,963.92 92.28,963.92 98.65,970.3 92.28,976.67 82.28,976.67" fill="#797d7e" stroke="#fff" stroke-width="0.7" stroke-linejoin="miter"/>
<polygon points="98.65,970.3 105.03,963.92 115.03,963.92 121.4,970.3 115.03,976.67 105.03,976.67" fill="#797d7e" stroke="#fff" stroke-width="0.7" stroke-linejoin="miter"/>
<polygon points="121.4,970.3 127.78,963.92 137.78,963.92 144.15,970.3 137.78,976.67 127.78,976.67" fill="#797d7e" stroke="#fff" stroke-width="0.7" stroke-linejoin="miter"/>
<polygon points="144.15,970.3 150.53,963.92 160.53,963.92 166.9,970.3 160.53,976.67 150.53,976.67" fill="#797d7e" stroke="#fff" stroke-width="0.7" stroke-linejoin="miter"/>
<polygon points="166.9,970.3 173.28,963.92 183.28,963.92 189.65,970.3 183.28,976.67 173.28,976.67" fill="#797d7e" stroke="#fff" stroke-width="0.7" stroke-linejoin="miter"/>
<polygon points="189.65,970.3 196.03,963.92 206.03,963.92 212.4,970.3 206.03,976.67 196.03,976.67" fill="#797d7e" stroke="#fff" stroke-width="0.7" stroke-linejoin="miter"/>
<polygon points="212.4,970.3 218.78,963.92 228.78,963.92 235.15,970.3 228.78,976.67 218.78,976.67" fill="#797d7e" stroke="#fff" stroke-width="0.7" stroke-linejoin="miter"/>
<polygon points="30.4,993.05 36.77,986.67 46.77,986.67 53.15,993.05 46.77,999.42 36.77,999.42" fill="#797d7e" stroke="#fff" stroke-width="0.7" stroke-linejoin="miter"/>
<polygon points="53.15,993.05 59.52,986.67 69.53,986.67 75.9,993.05 69.53,999.42 59.52,999.42" fill="#797d7e" stroke="#fff" stroke-width="0.7" stroke-linejoin="miter"/>
<polygon points="75.9,993.05 82.28,986.67 92.28,986.67 98.65,993.05 92.28,999.42 82.28,999.42" fill="#797d7e" stroke="#fff" stroke-width="0.7" stroke-linejoin="miter"/>
<polygon points="98.65,993.05 105.03,986.67 115.03,986.67 121.4,993.05 115.03,999.42 105.03,999.42" fill="#797d7e" stroke="#fff" stroke-width="0.7" stroke-linejoin="miter"/>
<polygon points="121.4,993.05 127.78,986.67 137.78,986.67 144.15,993.05 137.78,999.42 127.78,999.42" fill="#797d7e" stroke="#fff" stroke-width="0.7" stroke-linejoin="miter"/>
<polygon points="144.15,993.05 150.53,986.67 160.53,986.67 166.9,993.05 160.53,999.42 150.53,999.42" fill="#797d7e" stroke="#fff" stroke-width="0.7" stroke-linejoin="miter"/>
<polygon points="166.9,993.05 173.28,986.67 183.28,986.67 189.65,993.05 183.28,999.42 173.28,999.42" fill="#797d7e" stroke="#fff" stroke-width="0.7" stroke-linejoin="miter"/>
<polygon points="189.65,993.05 196.03,986.67 206.03,986.67 212.4,993.05 206.03,999.42 196.03,999.42" fill="#797d7e" stroke="#fff" stroke-width="0.7" stroke-linejoin="miter"/>
<polygon points="53.15,1015.8 59.52,1009.42 69.53,1009.42 75.9,1015.8 69.53,1022.17 59.52,1022.17" fill="#797d7e" stroke="#fff" stroke-width="0.7" stroke-linejoin="miter"/>
<polygon points="75.9,1015.8 82.28,1009.42 92.28,1009.42 98.65,1015.8 92.28,1022.17 82.28,1022.17" fill="#797d7e" stroke="#fff" stroke-width="0.7" stroke-linejoin="miter"/>
<polygon points="98.65,1015.8 105.03,1009.42 115.03,1009.42 121.4,1015.8 115.03,1022.17 105.03,1022.17" fill="#797d7e" stroke="#fff" stroke-width="0.7" stroke-linejoin="miter"/>
<polygon points="121.4,1015.8 127.78,1009.42 137.78,1009.42 144.15,1015.8 137.78,1022.17 127.78,1022.17" fill="#797d7e" stroke="#fff" stroke-width="0.7" stroke-linejoin="miter"/>
<polygon points="144.15,1015.8 150.53,1009.42 160.53,1009.42 166.9,1015.8 160.53,1022.17 150.53,1022.17" fill="#797d7e" stroke="#fff" stroke-width="0.7" stroke-linejoin="miter"/>
<polygon points="166.9,1015.8 173.28,1009.42 183.28,1009.42 189.65,1015.8 183.28,1022.17 173.28,1022.17" fill="#797d7e" stroke="#fff" stroke-width="0.7" stroke-linejoin="miter"/>
<polygon points="98.65,1038.55 105.03,1032.17 115.03,1032.17 121.4,1038.55 115.03,1044.92 105.03,1044.92" fill="#797d7e" stroke="#fff" stroke-width="0.7" stroke-linejoin="miter"/>
<polygon points="121.4,1038.55 127.78,1032.17 137.78,1032.17 144.15,1038.55 137.78,1044.92 127.78,1044.92" fill="#797d7e" stroke="#fff" stroke-width="0.7" stroke-linejoin="miter"/>
<polygon points="144.15,1038.55 150.53,1032.17 160.53,1032.17 166.9,1038.55 160.53,1044.92 150.53,1044.92" fill="#797d7e" stroke="#fff" stroke-width="0.7" stroke-linejoin="miter"/>
<polygon points="98.65,1061.3 105.03,1054.92 115.03,1054.92 121.4,1061.3 115.03,1067.67 105.03,1067.67" fill="#797d7e" stroke="#fff" stroke-width="0.7" stroke-linejoin="miter"/>
<polygon points="121.4,1061.3 127.78,1054.92 137.78,1054.92 144.15,1061.3 137.78,1067.67 127.78,1067.67" fill="#797d7e" stroke="#fff" stroke-width="0.7" stroke-linejoin="miter"/>
</g>
<g>
<polygon points="372.35,833.8 378.73,840.17 378.73,850.17 372.35,856.55 365.98,850.17 365.98,840.17" fill="#304a9e" stroke="#fff" stroke-width="0.7" stroke-linejoin="miter"/>
<polygon points="349.6,856.55 355.98,862.92 355.98,872.92 349.6,879.3 343.23,872.92 343.23,862.92" fill="#4278b7" stroke="#fff" stroke-width="0.7" stroke-linejoin="miter"/>
<polygon points="372.35,856.55 378.73,862.92 378.73,872.92 372.35,879.3 365.98,872.92 365.98,862.92" fill="#304a9e" stroke="#fff" stroke-width="0.7" stroke-linejoin="miter"/>
<polygon points="326.85,879.3 333.23,885.67 333.23,895.67 326.85,902.05 320.48,895.67 320.48,885.67" fill="#5894c6" stroke="#fff" stroke-width="0.7" stroke-linejoin="miter"/>
<polygon points="349.6,879.3 355.98,885.67 355.98,895.67 349.6,902.05 343.23,895.67 343.23,885.67" fill="#3555a4" stroke="#fff" stroke-width="0.7" stroke-linejoin="miter"/>
<polygon points="372.35,879.3 378.73,885.67 378.73,895.67 372.35,902.05 365.98,895.67 365.98,885.67" fill="#375ba8" stroke="#fff" stroke-width="0.7" stroke-linejoin="miter"/>
<polygon points="395.1,879.3 401.48,885.67 401.48,895.67 395.1,902.05 388.73,895.67 388.73,885.67" fill="#4f88c0" stroke="#fff" stroke-width="0.7" stroke-linejoin="miter"/>
<polygon points="417.85,879.3 424.23,885.67 424.23,895.67 417.85,902.05 411.48,895.67 411.48,885.67" fill="#a50a2e" stroke="#fff" stroke-width="0.7" stroke-linejoin="miter"/>
<polygon points="304.1,902.05 310.48,908.42 310.48,918.42 304.1,924.8 297.73,918.42 297.73,908.42" fill="#4b83bd" stroke="#fff" stroke-width="0.7" stroke-linejoin="miter"/>
<polygon points="326.85,902.05 333.23,908.42 333.23,918.42 326.85,924.8 320.48,918.42 320.48,908.42" fill="#4072b4" stroke="#fff" stroke-width="0.7" stroke-linejoin="miter"/>
<polygon points="349.6,902.05 355.98,908.42 355.98,918.42 349.6,924.8 343.23,918.42 343.23,908.42" fill="#be1d2a" stroke="#fff" stroke-width="0.7" stroke-linejoin="miter"/>
<polygon points="395.1,902.05 401.48,908.42 401.48,918.42 395.1,924.8 388.73,918.42 388.73,908.42" fill="#a50a2e" stroke="#fff" stroke-width="0.7" stroke-linejoin="miter"/>
<polygon points="417.85,902.05 424.23,908.42 424.23,918.42 417.85,924.8 411.48,918.42 411.48,908.42" fill="#77b5d7" stroke="#fff" stroke-width="0.7" stroke-linejoin="miter"/>
<polygon points="281.35,924.8 287.73,931.17 287.73,941.17 281.35,947.55 274.98,941.17 274.98,931.17" fill="#467eba" stroke="#fff" stroke-width="0.7" stroke-linejoin="miter"/>
<polygon points="304.1,924.8 310.48,931.17 310.48,941.17 304.1,947.55 297.73,941.17 297.73,931.17" fill="#4278b7" stroke="#fff" stroke-width="0.7" stroke-linejoin="miter"/>
<polygon points="326.85,924.8 333.23,931.17 333.23,941.17 326.85,947.55 320.48,941.17 320.48,931.17" fill="#a50a2e" stroke="#fff" stroke-width="0.7" stroke-linejoin="miter"/>
<polygon points="349.6,924.8 355.98,931.17 355.98,941.17 349.6,947.55 343.23,941.17 343.23,931.17" fill="#5c99c8" stroke="#fff" stroke-width="0.7" stroke-linejoin="miter"/>
<polygon points="395.1,924.8 401.48,931.17 401.48,941.17 395.1,947.55 388.73,941.17 388.73,931.17" fill="#4b83bd" stroke="#fff" stroke-width="0.7" stroke-linejoin="miter"/>
<polygon points="417.85,924.8 424.23,931.17 424.23,941.17 417.85,947.55 411.48,941.17 411.48,931.17" fill="#a50a2e" stroke="#fff" stroke-width="0.7" stroke-linejoin="miter"/>
<polygon points="463.35,924.8 469.73,931.17 469.73,941.17 463.35,947.55 456.98,941.17 456.98,931.17" fill="#5894c6" stroke="#fff" stroke-width="0.7" stroke-linejoin="miter"/>
<polygon points="258.6,947.55 264.98,953.92 264.98,963.92 258.6,970.3 252.23,963.92 252.23,953.92" fill="#a50a2e" stroke="#fff" stroke-width="0.7" stroke-linejoin="miter"/>
<polygon points="281.35,947.55 287.73,953.92 287.73,963.92 281.35,970.3 274.98,963.92 274.98,953.92" fill="#3555a4" stroke="#fff" stroke-width="0.7" stroke-linejoin="miter"/>
<polygon points="304.1,947.55 310.48,953.92 310.48,963.92 304.1,970.3 297.73,963.92 297.73,953.92" fill="#a50a2e" stroke="#fff" stroke-width="0.7" stroke-linejoin="miter"/>
<polygon points="326.85,947.55 333.23,953.92 333.23,963.92 326.85,970.3 320.48,963.92 320.48,953.92" fill="#8ec6df" stroke="#fff" stroke-width="0.7" stroke-linejoin="miter"/>
<polygon points="349.6,947.55 355.98,953.92 355.98,963.92 349.6,970.3 343.23,963.92 343.23,953.92" fill="#addae8" stroke="#fff" stroke-width="0.7" stroke-linejoin="miter"/>
<polygon points="372.35,947.55 378.73,953.92 378.73,963.92 372.35,970.3 365.98,963.92 365.98,953.92" fill="#89c1dd" stroke="#fff" stroke-width="0.7" stroke-linejoin="miter"/>
<polygon points="395.1,947.55 401.48,953.92 401.48,963.92 395.1,970.3 388.73,963.92 388.73,953.92" fill="#be1d2a" stroke="#fff" stroke-width="0.7" stroke-linejoin="miter"/>
<polygon points="417.85,947.55 424.23,953.92 424.23,963.92 417.85,970.3 411.48,963.92 411.48,953.92" fill="#a50a2e" stroke="#fff" stroke-width="0.7" stroke-linejoin="miter"/>
<polygon points="440.6,947.55 446.98,953.92 446.98,963.92 440.6,970.3 434.23,963.92 434.23,953.92" fill="#304a9e" stroke="#fff" stroke-width="0.7" stroke-linejoin="miter"/>
<polygon points="463.35,947.55 469.73,953.92 469.73,963.92 463.35,970.3 456.98,963.92 456.98,953.92" fill="#a50a2e" stroke="#fff" stroke-width="0.7" stroke-linejoin="miter"/>
<polygon points="486.1,947.55 492.48,953.92 492.48,963.92 486.1,970.3 479.73,963.92 479.73,953.92" fill="#c8e5e5" stroke="#fff" stroke-width="0.7" stroke-linejoin="miter"/>
<polygon points="281.35,970.3 287.73,976.67 287.73,986.67 281.35,993.05 274.98,986.67 274.98,976.67" fill="#467eba" stroke="#fff" stroke-width="0.7" stroke-linejoin="miter"/>
<polygon points="304.1,970.3 310.48,976.67 310.48,986.67 304.1,993.05 297.73,986.67 297.73,976.67" fill="#334fa1" stroke="#fff" stroke-width="0.7" stroke-linejoin="miter"/>
<polygon points="326.85,970.3 333.23,976.67 333.23,986.67 326.85,993.05 320.48,986.67 320.48,976.67" fill="#4278b7" stroke="#fff" stroke-width="0.7" stroke-linejoin="miter"/>
<polygon points="349.6,970.3 355.98,976.67 355.98,986.67 349.6,993.05 343.23,986.67 343.23,976.67" fill="#375ba8" stroke="#fff" stroke-width="0.7" stroke-linejoin="miter"/>
<polygon points="372.35,970.3 378.73,976.67 378.73,986.67 372.35,993.05 365.98,986.67 365.98,976.67" fill="#a50a2e" stroke="#fff" stroke-width="0.7" stroke-linejoin="miter"/>
<polygon points="395.1,970.3 401.48,976.67 401.48,986.67 395.1,993.05 388.73,986.67 388.73,976.67" fill="#8ec6df" stroke="#fff" stroke-width="0.7" stroke-linejoin="miter"/>
<polygon points="417.85,970.3 424.23,976.67 424.23,986.67 417.85,993.05 411.48,986.67 411.48,976.67" fill="#4278b7" stroke="#fff" stroke-width="0.7" stroke-linejoin="miter"/>
<polygon points="440.6,970.3 446.98,976.67 446.98,986.67 440.6,993.05 434.23,986.67 434.23,976.67" fill="#467eba" stroke="#fff" stroke-width="0.7" stroke-linejoin="miter"/>
<polygon points="463.35,970.3 469.73,976.67 469.73,986.67 463.35,993.05 456.98,986.67 456.98,976.67" fill="#304a9e" stroke="#fff" stroke-width="0.7" stroke-linejoin="miter"/>
<polygon points="304.1,993.05 310.48,999.42 310.48,1009.42 304.1,1015.8 297.73,1009.42 297.73,999.42" fill="#a50a2e" stroke="#fff" stroke-width="0.7" stroke-linejoin="miter"/>
<polygon points="326.85,993.05 333.23,999.42 333.23,1009.42 326.85,1015.8 320.48,1009.42 320.48,999.42" fill="#addae8" stroke="#fff" stroke-width="0.7" stroke-linejoin="miter"/>
<polygon points="349.6,993.05 355.98,999.42 355.98,1009.42 349.6,1015.8 343.23,1009.42 343.23,999.42" fill="#304a9e" stroke="#fff" stroke-width="0.7" stroke-linejoin="miter"/>
<polygon points="372.35,993.05 378.73,999.42 378.73,1009.42 372.35,1015.8 365.98,1009.42 365.98,999.42" fill="#4072b4" stroke="#fff" stroke-width="0.7" stroke-linejoin="miter"/>
<polygon points="395.1,993.05 401.48,999.42 401.48,1009.42 395.1,1015.8 388.73,1009.42 388.73,999.42" fill="#304a9e" stroke="#fff" stroke-width="0.7" stroke-linejoin="miter"/>
<polygon points="417.85,993.05 424.23,999.42 424.23,1009.42 417.85,1015.8 411.48,1009.42 411.48,999.42" fill="#304a9e" stroke="#fff" stroke-width="0.7" stroke-linejoin="miter"/>
<polygon points="440.6,993.05 446.98,999.42 446.98,1009.42 440.6,1015.8 434.23,1009.42 434.23,999.42" fill="#be1d2a" stroke="#fff" stroke-width="0.7" stroke-linejoin="miter"/>
<polygon points="349.6,1015.8 355.98,1022.17 355.98,1032.17 349.6,1038.55 343.23,1032.17 343.23,1022.17" fill="#548ec3" stroke="#fff" stroke-width="0.7" stroke-linejoin="miter"/>
<polygon points="372.35,1015.8 378.73,1022.17 378.73,1032.17 372.35,1038.55 365.98,1032.17 365.98,1022.17" fill="#ddecd6" stroke="#fff" stroke-width="0.7" stroke-linejoin="miter"/>
<polygon points="395.1,1015.8 401.48,1022.17 401.48,1032.17 395.1,1038.55 388.73,1032.17 388.73,1022.17" fill="#467eba" stroke="#fff" stroke-width="0.7" stroke-linejoin="miter"/>
<polygon points="417.85,1015.8 424.23,1022.17 424.23,1032.17 417.85,1038.55 411.48,1032.17 411.48,1022.17" fill="#467eba" stroke="#fff" stroke-width="0.7" stroke-linejoin="miter"/>
<polygon points="349.6,1038.55 355.98,1044.92 355.98,1054.92 349.6,1061.3 343.23,1054.92 343.23,1044.92" fill="#a50a2e" stroke="#fff" stroke-width="0.7" stroke-linejoin="miter"/>
<polygon points="372.35,1038.55 378.73,1044.92 378.73,1054.92 372.35,1061.3 365.98,1054.92 365.98,1044.92" fill="#375ba8" stroke="#fff" stroke-width="0.7" stroke-linejoin="miter"/>
<polygon points="395.1,1038.55 401.48,1044.92 401.48,1054.92 395.1,1061.3 388.73,1054.92 388.73,1044.92" fill="#4278b7" stroke="#fff" stroke-width="0.7" stroke-linejoin="miter"/>
<polygon points="372.35,1061.3 378.73,1067.67 378.73,1077.67 372.35,1084.05 365.98,1077.67 365.98,1067.67" fill="#a50a2e" stroke="#fff" stroke-width="0.7" stroke-linejoin="miter"/>
<polygon points="349.6,856.55 355.98,850.17 365.98,850.17 372.35,856.55 365.98,862.92 355.98,862.92" fill="#a50a2e" stroke="#fff" stroke-width="0.7" stroke-linejoin="miter"/>
<polygon points="326.85,879.3 333.23,872.92 343.23,872.92 349.6,879.3 343.23,885.67 333.23,885.67" fill="#4b83bd" stroke="#fff" stroke-width="0.7" stroke-linejoin="miter"/>
<polygon points="349.6,879.3 355.98,872.92 365.98,872.92 372.35,879.3 365.98,885.67 355.98,885.67" fill="#3961ab" stroke="#fff" stroke-width="0.7" stroke-linejoin="miter"/>
<polygon points="372.35,879.3 378.73,872.92 388.73,872.92 395.1,879.3 388.73,885.67 378.73,885.67" fill="#a0d2e5" stroke="#fff" stroke-width="0.7" stroke-linejoin="miter"/>
<polygon points="395.1,879.3 401.48,872.92 411.48,872.92 417.85,879.3 411.48,885.67 401.48,885.67" fill="#375ba8" stroke="#fff" stroke-width="0.7" stroke-linejoin="miter"/>
<polygon points="304.1,902.05 310.48,895.67 320.48,895.67 326.85,902.05 320.48,908.42 310.48,908.42" fill="#304a9e" stroke="#fff" stroke-width="0.7" stroke-linejoin="miter"/>
<polygon points="326.85,902.05 333.23,895.67 343.23,895.67 349.6,902.05 343.23,908.42 333.23,908.42" fill="#304a9e" stroke="#fff" stroke-width="0.7" stroke-linejoin="miter"/>
<polygon points="349.6,902.05 355.98,895.67 365.98,895.67 372.35,902.05 365.98,908.42 355.98,908.42" fill="#6cacd3" stroke="#fff" stroke-width="0.7" stroke-linejoin="miter"/>
<polygon points="372.35,902.05 378.73,895.67 388.73,895.67 395.1,902.05 388.73,908.42 378.73,908.42" fill="#ddecd6" stroke="#fff" stroke-width="0.7" stroke-linejoin="miter"/>
<polygon points="395.1,902.05 401.48,895.67 411.48,895.67 417.85,902.05 411.48,908.42 401.48,908.42" fill="#a0d2e5" stroke="#fff" stroke-width="0.7" stroke-linejoin="miter"/>
<polygon points="417.85,902.05 424.23,895.67 434.23,895.67 440.6,902.05 434.23,908.42 424.23,908.42" fill="#3e6cb1" stroke="#fff" stroke-width="0.7" stroke-linejoin="miter"/>
<polygon points="281.35,924.8 287.73,918.42 297.73,918.42 304.1,924.8 297.73,931.17 287.73,931.17" fill="#71b1d5" stroke="#fff" stroke-width="0.7" stroke-linejoin="miter"/>
<polygon points="304.1,924.8 310.48,918.42 320.48,918.42 326.85,924.8 320.48,931.17 310.48,931.17" fill="#addae8" stroke="#fff" stroke-width="0.7" stroke-linejoin="miter"/>
<polygon points="326.85,924.8 333.23,918.42 343.23,918.42 349.6,924.8 343.23,931.17 333.23,931.17" fill="#4b83bd" stroke="#fff" stroke-width="0.7" stroke-linejoin="miter"/>
<polygon points="395.1,924.8 401.48,918.42 411.48,918.42 417.85,924.8 411.48,931.17 401.48,931.17" fill="#a50a2e" stroke="#fff" stroke-width="0.7" stroke-linejoin="miter"/>
<polygon points="258.6,947.55 264.98,941.17 274.98,941.17 281.35,947.55 274.98,953.92 264.98,953.92" fill="#4278b7" stroke="#fff" stroke-width="0.7" stroke-linejoin="miter"/>
<polygon points="281.35,947.55 287.73,941.17 297.73,941.17 304.1,947.55 297.73,953.92 287.73,953.92" fill="#304a9e" stroke="#fff" stroke-width="0.7" stroke-linejoin="miter"/>
<polygon points="304.1,947.55 310.48,941.17 320.48,941.17 326.85,947.55 320.48,953.92 310.48,953.92" fill="#3b67ae" stroke="#fff" stroke-width="0.7" stroke-linejoin="miter"/>
<polygon points="326.85,947.55 333.23,941.17 343.23,941.17 349.6,947.55 343.23,953.92 333.23,953.92" fill="#304a9e" stroke="#fff" stroke-width="0.7" stroke-linejoin="miter"/>
<polygon points="349.6,947.55 355.98,941.17 365.98,941.17 372.35,947.55 365.98,953.92 355.98,953.92" fill="#467eba" stroke="#fff" stroke-width="0.7" stroke-linejoin="miter"/>
<polygon points="372.35,947.55 378.73,941.17 388.73,941.17 395.1,947.55 388.73,953.92 378.73,953.92" fill="#5894c6" stroke="#fff" stroke-width="0.7" stroke-linejoin="miter"/>
<polygon points="395.1,947.55 401.48,941.17 411.48,941.17 417.85,947.55 411.48,953.92 401.48,953.92" fill="#a50a2e" stroke="#fff" stroke-width="0.7" stroke-linejoin="miter"/>
<polygon points="417.85,947.55 424.23,941.17 434.23,941.17 440.6,947.55 434.23,953.92 424.23,953.92" fill="#a50a2e" stroke="#fff" stroke-width="0.7" stroke-linejoin="miter"/>
<polygon points="440.6,947.55 446.98,941.17 456.98,941.17 463.35,947.55 456.98,953.92 446.98,953.92" fill="#a50a2e" stroke="#fff" stroke-width="0.7" stroke-linejoin="miter"/>
<polygon points="463.35,947.55 469.73,941.17 479.73,941.17 486.1,947.55 479.73,953.92 469.73,953.92" fill="#467eba" stroke="#fff" stroke-width="0.7" stroke-linejoin="miter"/>
<polygon points="258.6,970.3 264.98,963.92 274.98,963.92 281.35,970.3 274.98,976.67 264.98,976.67" fill="#334fa1" stroke="#fff" stroke-width="0.7" stroke-linejoin="miter"/>
<polygon points="281.35,970.3 287.73,963.92 297.73,963.92 304.1,970.3 297.73,976.67 287.73,976.67" fill="#375ba8" stroke="#fff" stroke-width="0.7" stroke-linejoin="miter"/>
<polygon points="304.1,970.3 310.48,963.92 320.48,963.92 326.85,970.3 320.48,976.67 310.48,976.67" fill="#89c1dd" stroke="#fff" stroke-width="0.7" stroke-linejoin="miter"/>
<polygon points="326.85,970.3 333.23,963.92 343.23,963.92 349.6,970.3 343.23,976.67 333.23,976.67" fill="#9acee3" stroke="#fff" stroke-width="0.7" stroke-linejoin="miter"/>
<polygon points="349.6,970.3 355.98,963.92 365.98,963.92 372.35,970.3 365.98,976.67 355.98,976.67" fill="#3b67ae" stroke="#fff" stroke-width="0.7" stroke-linejoin="miter"/>
<polygon points="372.35,970.3 378.73,963.92 388.73,963.92 395.1,970.3 388.73,976.67 378.73,976.67" fill="#fee090" stroke="#fff" stroke-width="0.7" stroke-linejoin="miter"/>
<polygon points="395.1,970.3 401.48,963.92 411.48,963.92 417.85,970.3 411.48,976.67 401.48,976.67" fill="#3961ab" stroke="#fff" stroke-width="0.7" stroke-linejoin="miter"/>
<polygon points="417.85,970.3 424.23,963.92 434.23,963.92 440.6,970.3 434.23,976.67 424.23,976.67" fill="#4f88c0" stroke="#fff" stroke-width="0.7" stroke-linejoin="miter"/>
<polygon points="440.6,970.3 446.98,963.92 456.98,963.92 463.35,970.3 456.98,976.67 446.98,976.67" fill="#9acee3" stroke="#fff" stroke-width="0.7" stroke-linejoin="miter"/>
<polygon points="463.35,970.3 469.73,963.92 479.73,963.92 486.1,970.3 479.73,976.67 469.73,976.67" fill="#f4eead" stroke="#fff" stroke-width="0.7" stroke-linejoin="miter"/>
<polygon points="281.35,993.05 287.73,986.67 297.73,986.67 304.1,993.05 297.73,999.42 287.73,999.42" fill="#3961ab" stroke="#fff" stroke-width="0.7" stroke-linejoin="miter"/>
<polygon points="304.1,993.05 310.48,986.67 320.48,986.67 326.85,993.05 320.48,999.42 310.48,999.42" fill="#6cacd3" stroke="#fff" stroke-width="0.7" stroke-linejoin="miter"/>
<polygon points="326.85,993.05 333.23,986.67 343.23,986.67 349.6,993.05 343.23,999.42 333.23,999.42" fill="#fdae61" stroke="#fff" stroke-width="0.7" stroke-linejoin="miter"/>
<polygon points="349.6,993.05 355.98,986.67 365.98,986.67 372.35,993.05 365.98,999.42 355.98,999.42" fill="#3e6cb1" stroke="#fff" stroke-width="0.7" stroke-linejoin="miter"/>
<polygon points="372.35,993.05 378.73,986.67 388.73,986.67 395.1,993.05 388.73,999.42 378.73,999.42" fill="#304a9e" stroke="#fff" stroke-width="0.7" stroke-linejoin="miter"/>
<polygon points="395.1,993.05 401.48,986.67 411.48,986.67 417.85,993.05 411.48,999.42 401.48,999.42" fill="#3e6cb1" stroke="#fff" stroke-width="0.7" stroke-linejoin="miter"/>
<polygon points="417.85,993.05 424.23,986.67 434.23,986.67 440.6,993.05 434.23,999.42 424.23,999.42" fill="#467eba" stroke="#fff" stroke-width="0.7" stroke-linejoin="miter"/>
<polygon points="440.6,993.05 446.98,986.67 456.98,986.67 463.35,993.05 456.98,999.42 446.98,999.42" fill="#6cacd3" stroke="#fff" stroke-width="0.7" stroke-linejoin="miter"/>
<polygon points="304.1,1015.8 310.48,1009.42 320.48,1009.42 326.85,1015.8 320.48,1022.17 310.48,1022.17" fill="#4072b4" stroke="#fff" stroke-width="0.7" stroke-linejoin="miter"/>
<polygon points="326.85,1015.8 333.23,1009.42 343.23,1009.42 349.6,1015.8 343.23,1022.17 333.23,1022.17" fill="#3e6cb1" stroke="#fff" stroke-width="0.7" stroke-linejoin="miter"/>
<polygon points="349.6,1015.8 355.98,1009.42 365.98,1009.42 372.35,1015.8 365.98,1022.17 355.98,1022.17" fill="#467eba" stroke="#fff" stroke-width="0.7" stroke-linejoin="miter"/>
<polygon points="372.35,1015.8 378.73,1009.42 388.73,1009.42 395.1,1015.8 388.73,1022.17 378.73,1022.17" fill="#5894c6" stroke="#fff" stroke-width="0.7" stroke-linejoin="miter"/>
<polygon points="395.1,1015.8 401.48,1009.42 411.48,1009.42 417.85,1015.8 411.48,1022.17 401.48,1022.17" fill="#4f88c0" stroke="#fff" stroke-width="0.7" stroke-linejoin="miter"/>
<polygon points="417.85,1015.8 424.23,1009.42 434.23,1009.42 440.6,1015.8 434.23,1022.17 424.23,1022.17" fill="#3b67ae" stroke="#fff" stroke-width="0.7" stroke-linejoin="miter"/>
<polygon points="349.6,1038.55 355.98,1032.17 365.98,1032.17 372.35,1038.55 365.98,1044.92 355.98,1044.92" fill="#3e6cb1" stroke="#fff" stroke-width="0.7" stroke-linejoin="miter"/>
<polygon points="372.35,1038.55 378.73,1032.17 388.73,1032.17 395.1,1038.55 388.73,1044.92 378.73,1044.92" fill="#375ba8" stroke="#fff" stroke-width="0.7" stroke-linejoin="miter"/>
<polygon points="395.1,1038.55 401.48,1032.17 411.48,1032.17 417.85,1038.55 411.48,1044.92 401.48,1044.92" fill="#c3e3e6" stroke="#fff" stroke-width="0.7" stroke-linejoin="miter"/>
<polygon points="349.6,1061.3 355.98,1054.92 365.98,1054.92 372.35,1061.3 365.98,1067.67 355.98,1067.67" fill="#3555a4" stroke="#fff" stroke-width="0.7" stroke-linejoin="miter"/>
<polygon points="372.35,1061.3 378.73,1054.92 388.73,1054.92 395.1,1061.3 388.73,1067.67 378.73,1067.67" fill="#3555a4" stroke="#fff" stroke-width="0.7" stroke-linejoin="miter"/>
</g>
<g>
<polygon points="622.75,833.8 629.12,840.17 629.12,850.17 622.75,856.55 616.38,850.17 616.38,840.17" fill="#304a9e" stroke="#fff" stroke-width="0.7" stroke-linejoin="miter"/>
<polygon points="600,856.55 606.38,862.92 606.38,872.92 600,879.3 593.62,872.92 593.62,862.92" fill="#4278b7" stroke="#fff" stroke-width="0.7" stroke-linejoin="miter"/>
<polygon points="622.75,856.55 629.12,862.92 629.12,872.92 622.75,879.3 616.38,872.92 616.38,862.92" fill="#304a9e" stroke="#fff" stroke-width="0.7" stroke-linejoin="miter"/>
<polygon points="577.25,879.3 583.62,885.67 583.62,895.67 577.25,902.05 570.88,895.67 570.88,885.67" fill="#5894c6" stroke="#fff" stroke-width="0.7" stroke-linejoin="miter"/>
<polygon points="600,879.3 606.38,885.67 606.38,895.67 600,902.05 593.62,895.67 593.62,885.67" fill="#3555a4" stroke="#fff" stroke-width="0.7" stroke-linejoin="miter"/>
<polygon points="622.75,879.3 629.12,885.67 629.12,895.67 622.75,902.05 616.38,895.67 616.38,885.67" fill="#375ba8" stroke="#fff" stroke-width="0.7" stroke-linejoin="miter"/>
<polygon points="645.5,879.3 651.88,885.67 651.88,895.67 645.5,902.05 639.12,895.67 639.12,885.67" fill="#4f88c0" stroke="#fff" stroke-width="0.7" stroke-linejoin="miter"/>
<polygon points="668.25,879.3 674.62,885.67 674.62,895.67 668.25,902.05 661.88,895.67 661.88,885.67" fill="#7c7e80" stroke="#fff" stroke-width="0.7" stroke-linejoin="miter"/>
<polygon points="554.5,902.05 560.88,908.42 560.88,918.42 554.5,924.8 548.12,918.42 548.12,908.42" fill="#4b83bd" stroke="#fff" stroke-width="0.7" stroke-linejoin="miter"/>
<polygon points="577.25,902.05 583.62,908.42 583.62,918.42 577.25,924.8 570.88,918.42 570.88,908.42" fill="#4072b4" stroke="#fff" stroke-width="0.7" stroke-linejoin="miter"/>
<polygon points="600,902.05 606.38,908.42 606.38,918.42 600,924.8 593.62,918.42 593.62,908.42" fill="#7c7e80" stroke="#fff" stroke-width="0.7" stroke-linejoin="miter"/>
<polygon points="645.5,902.05 651.88,908.42 651.88,918.42 645.5,924.8 639.12,918.42 639.12,908.42" fill="#7c7e80" stroke="#fff" stroke-width="0.7" stroke-linejoin="miter"/>
<polygon points="668.25,902.05 674.62,908.42 674.62,918.42 668.25,924.8 661.88,918.42 661.88,908.42" fill="#77b5d7" stroke="#fff" stroke-width="0.7" stroke-linejoin="miter"/>
<polygon points="531.75,924.8 538.12,931.17 538.12,941.17 531.75,947.55 525.38,941.17 525.38,931.17" fill="#467eba" stroke="#fff" stroke-width="0.7" stroke-linejoin="miter"/>
<polygon points="554.5,924.8 560.88,931.17 560.88,941.17 554.5,947.55 548.12,941.17 548.12,931.17" fill="#4278b7" stroke="#fff" stroke-width="0.7" stroke-linejoin="miter"/>
<polygon points="577.25,924.8 583.62,931.17 583.62,941.17 577.25,947.55 570.88,941.17 570.88,931.17" fill="#7c7e80" stroke="#fff" stroke-width="0.7" stroke-linejoin="miter"/>
<polygon points="600,924.8 606.38,931.17 606.38,941.17 600,947.55 593.62,941.17 593.62,931.17" fill="#5c99c8" stroke="#fff" stroke-width="0.7" stroke-linejoin="miter"/>
<polygon points="645.5,924.8 651.88,931.17 651.88,941.17 645.5,947.55 639.12,941.17 639.12,931.17" fill="#4b83bd" stroke="#fff" stroke-width="0.7" stroke-linejoin="miter"/>
<polygon points="668.25,924.8 674.62,931.17 674.62,941.17 668.25,947.55 661.88,941.17 661.88,931.17" fill="#7c7e80" stroke="#fff" stroke-width="0.7" stroke-linejoin="miter"/>
<polygon points="713.75,924.8 720.12,931.17 720.12,941.17 713.75,947.55 707.38,941.17 707.38,931.17" fill="#7c7e80" stroke="#fff" stroke-width="0.7" stroke-linejoin="miter"/>
<polygon points="509,947.55 515.38,953.92 515.38,963.92 509,970.3 502.62,963.92 502.62,953.92" fill="#7c7e80" stroke="#fff" stroke-width="0.7" stroke-linejoin="miter"/>
<polygon points="531.75,947.55 538.12,953.92 538.12,963.92 531.75,970.3 525.38,963.92 525.38,953.92" fill="#3555a4" stroke="#fff" stroke-width="0.7" stroke-linejoin="miter"/>
<polygon points="554.5,947.55 560.88,953.92 560.88,963.92 554.5,970.3 548.12,963.92 548.12,953.92" fill="#7c7e80" stroke="#fff" stroke-width="0.7" stroke-linejoin="miter"/>
<polygon points="577.25,947.55 583.62,953.92 583.62,963.92 577.25,970.3 570.88,963.92 570.88,953.92" fill="#8ec6df" stroke="#fff" stroke-width="0.7" stroke-linejoin="miter"/>
<polygon points="600,947.55 606.38,953.92 606.38,963.92 600,970.3 593.62,963.92 593.62,953.92" fill="#7c7e80" stroke="#fff" stroke-width="0.7" stroke-linejoin="miter"/>
<polygon points="622.75,947.55 629.12,953.92 629.12,963.92 622.75,970.3 616.38,963.92 616.38,953.92" fill="#89c1dd" stroke="#fff" stroke-width="0.7" stroke-linejoin="miter"/>
<polygon points="645.5,947.55 651.88,953.92 651.88,963.92 645.5,970.3 639.12,963.92 639.12,953.92" fill="#7c7e80" stroke="#fff" stroke-width="0.7" stroke-linejoin="miter"/>
<polygon points="668.25,947.55 674.62,953.92 674.62,963.92 668.25,970.3 661.88,963.92 661.88,953.92" fill="#7c7e80" stroke="#fff" stroke-width="0.7" stroke-linejoin="miter"/>
<polygon points="691,947.55 697.38,953.92 697.38,963.92 691,970.3 684.62,963.92 684.62,953.92" fill="#304a9e" stroke="#fff" stroke-width="0.7" stroke-linejoin="miter"/>
<polygon points="713.75,947.55 720.12,953.92 720.12,963.92 713.75,970.3 707.38,963.92 707.38,953.92" fill="#7c7e80" stroke="#fff" stroke-width="0.7" stroke-linejoin="miter"/>
<polygon points="736.5,947.55 742.88,953.92 742.88,963.92 736.5,970.3 730.12,963.92 730.12,953.92" fill="#7c7e80" stroke="#fff" stroke-width="0.7" stroke-linejoin="miter"/>
<polygon points="531.75,970.3 538.12,976.67 538.12,986.67 531.75,993.05 525.38,986.67 525.38,976.67" fill="#467eba" stroke="#fff" stroke-width="0.7" stroke-linejoin="miter"/>
<polygon points="554.5,970.3 560.88,976.67 560.88,986.67 554.5,993.05 548.12,986.67 548.12,976.67" fill="#334fa1" stroke="#fff" stroke-width="0.7" stroke-linejoin="miter"/>
<polygon points="577.25,970.3 583.62,976.67 583.62,986.67 577.25,993.05 570.88,986.67 570.88,976.67" fill="#4278b7" stroke="#fff" stroke-width="0.7" stroke-linejoin="miter"/>
<polygon points="600,970.3 606.38,976.67 606.38,986.67 600,993.05 593.62,986.67 593.62,976.67" fill="#375ba8" stroke="#fff" stroke-width="0.7" stroke-linejoin="miter"/>
<polygon points="622.75,970.3 629.12,976.67 629.12,986.67 622.75,993.05 616.38,986.67 616.38,976.67" fill="#7c7e80" stroke="#fff" stroke-width="0.7" stroke-linejoin="miter"/>
<polygon points="645.5,970.3 651.88,976.67 651.88,986.67 645.5,993.05 639.12,986.67 639.12,976.67" fill="#8ec6df" stroke="#fff" stroke-width="0.7" stroke-linejoin="miter"/>
<polygon points="668.25,970.3 674.62,976.67 674.62,986.67 668.25,993.05 661.88,986.67 661.88,976.67" fill="#4278b7" stroke="#fff" stroke-width="0.7" stroke-linejoin="miter"/>
<polygon points="691,970.3 697.38,976.67 697.38,986.67 691,993.05 684.62,986.67 684.62,976.67" fill="#467eba" stroke="#fff" stroke-width="0.7" stroke-linejoin="miter"/>
<polygon points="713.75,970.3 720.12,976.67 720.12,986.67 713.75,993.05 707.38,986.67 707.38,976.67" fill="#304a9e" stroke="#fff" stroke-width="0.7" stroke-linejoin="miter"/>
<polygon points="554.5,993.05 560.88,999.42 560.88,1009.42 554.5,1015.8 548.12,1009.42 548.12,999.42" fill="#7c7e80" stroke="#fff" stroke-width="0.7" stroke-linejoin="miter"/>
<polygon points="577.25,993.05 583.62,999.42 583.62,1009.42 577.25,1015.8 570.88,1009.42 570.88,999.42" fill="#7c7e80" stroke="#fff" stroke-width="0.7" stroke-linejoin="miter"/>
<polygon points="600,993.05 606.38,999.42 606.38,1009.42 600,1015.8 593.62,1009.42 593.62,999.42" fill="#304a9e" stroke="#fff" stroke-width="0.7" stroke-linejoin="miter"/>
<polygon points="622.75,993.05 629.12,999.42 629.12,1009.42 622.75,1015.8 616.38,1009.42 616.38,999.42" fill="#4072b4" stroke="#fff" stroke-width="0.7" stroke-linejoin="miter"/>
<polygon points="645.5,993.05 651.88,999.42 651.88,1009.42 645.5,1015.8 639.12,1009.42 639.12,999.42" fill="#304a9e" stroke="#fff" stroke-width="0.7" stroke-linejoin="miter"/>
<polygon points="668.25,993.05 674.62,999.42 674.62,1009.42 668.25,1015.8 661.88,1009.42 661.88,999.42" fill="#304a9e" stroke="#fff" stroke-width="0.7" stroke-linejoin="miter"/>
<polygon points="691,993.05 697.38,999.42 697.38,1009.42 691,1015.8 684.62,1009.42 684.62,999.42" fill="#7c7e80" stroke="#fff" stroke-width="0.7" stroke-linejoin="miter"/>
<polygon points="600,1015.8 606.38,1022.17 606.38,1032.17 600,1038.55 593.62,1032.17 593.62,1022.17" fill="#7c7e80" stroke="#fff" stroke-width="0.7" stroke-linejoin="miter"/>
<polygon points="622.75,1015.8 629.12,1022.17 629.12,1032.17 622.75,1038.55 616.38,1032.17 616.38,1022.17" fill="#7c7e80" stroke="#fff" stroke-width="0.7" stroke-linejoin="miter"/>
<polygon points="645.5,1015.8 651.88,1022.17 651.88,1032.17 645.5,1038.55 639.12,1032.17 639.12,1022.17" fill="#467eba" stroke="#fff" stroke-width="0.7" stroke-linejoin="miter"/>
<polygon points="668.25,1015.8 674.62,1022.17 674.62,1032.17 668.25,1038.55 661.88,1032.17 661.88,1022.17" fill="#467eba" stroke="#fff" stroke-width="0.7" stroke-linejoin="miter"/>
<polygon points="600,1038.55 606.38,1044.92 606.38,1054.92 600,1061.3 593.62,1054.92 593.62,1044.92" fill="#7c7e80" stroke="#fff" stroke-width="0.7" stroke-linejoin="miter"/>
<polygon points="622.75,1038.55 629.12,1044.92 629.12,1054.92 622.75,1061.3 616.38,1054.92 616.38,1044.92" fill="#375ba8" stroke="#fff" stroke-width="0.7" stroke-linejoin="miter"/>
<polygon points="645.5,1038.55 651.88,1044.92 651.88,1054.92 645.5,1061.3 639.12,1054.92 639.12,1044.92" fill="#4278b7" stroke="#fff" stroke-width="0.7" stroke-linejoin="miter"/>
<polygon points="622.75,1061.3 629.12,1067.67 629.12,1077.67 622.75,1084.05 616.38,1077.67 616.38,1067.67" fill="#7c7e80" stroke="#fff" stroke-width="0.7" stroke-linejoin="miter"/>
<polygon points="600,856.55 606.38,850.17 616.38,850.17 622.75,856.55 616.38,862.92 606.38,862.92" fill="#7c7e80" stroke="#fff" stroke-width="0.7" stroke-linejoin="miter"/>
<polygon points="577.25,879.3 583.62,872.92 593.62,872.92 600,879.3 593.62,885.67 583.62,885.67" fill="#4b83bd" stroke="#fff" stroke-width="0.7" stroke-linejoin="miter"/>
<polygon points="600,879.3 606.38,872.92 616.38,872.92 622.75,879.3 616.38,885.67 606.38,885.67" fill="#3961ab" stroke="#fff" stroke-width="0.7" stroke-linejoin="miter"/>
<polygon points="622.75,879.3 629.12,872.92 639.12,872.92 645.5,879.3 639.12,885.67 629.12,885.67" fill="#a0d2e5" stroke="#fff" stroke-width="0.7" stroke-linejoin="miter"/>
<polygon points="645.5,879.3 651.88,872.92 661.88,872.92 668.25,879.3 661.88,885.67 651.88,885.67" fill="#375ba8" stroke="#fff" stroke-width="0.7" stroke-linejoin="miter"/>
<polygon points="554.5,902.05 560.88,895.67 570.88,895.67 577.25,902.05 570.88,908.42 560.88,908.42" fill="#304a9e" stroke="#fff" stroke-width="0.7" stroke-linejoin="miter"/>
<polygon points="577.25,902.05 583.62,895.67 593.62,895.67 600,902.05 593.62,908.42 583.62,908.42" fill="#304a9e" stroke="#fff" stroke-width="0.7" stroke-linejoin="miter"/>
<polygon points="600,902.05 606.38,895.67 616.38,895.67 622.75,902.05 616.38,908.42 606.38,908.42" fill="#6cacd3" stroke="#fff" stroke-width="0.7" stroke-linejoin="miter"/>
<polygon points="622.75,902.05 629.12,895.67 639.12,895.67 645.5,902.05 639.12,908.42 629.12,908.42" fill="#7c7e80" stroke="#fff" stroke-width="0.7" stroke-linejoin="miter"/>
<polygon points="645.5,902.05 651.88,895.67 661.88,895.67 668.25,902.05 661.88,908.42 651.88,908.42" fill="#a0d2e5" stroke="#fff" stroke-width="0.7" stroke-linejoin="miter"/>
<polygon points="668.25,902.05 674.62,895.67 684.62,895.67 691,902.05 684.62,908.42 674.62,908.42" fill="#3e6cb1" stroke="#fff" stroke-width="0.7" stroke-linejoin="miter"/>
<polygon points="531.75,924.8 538.12,918.42 548.12,918.42 554.5,924.8 548.12,931.17 538.12,931.17" fill="#71b1d5" stroke="#fff" stroke-width="0.7" stroke-linejoin="miter"/>
<polygon points="554.5,924.8 560.88,918.42 570.88,918.42 577.25,924.8 570.88,931.17 560.88,931.17" fill="#7c7e80" stroke="#fff" stroke-width="0.7" stroke-linejoin="miter"/>
<polygon points="577.25,924.8 583.62,918.42 593.62,918.42 600,924.8 593.62,931.17 583.62,931.17" fill="#4b83bd" stroke="#fff" stroke-width="0.7" stroke-linejoin="miter"/>
<polygon points="645.5,924.8 651.88,918.42 661.88,918.42 668.25,924.8 661.88,931.17 651.88,931.17" fill="#7c7e80" stroke="#fff" stroke-width="0.7" stroke-linejoin="miter"/>
<polygon points="509,947.55 515.38,941.17 525.38,941.17 531.75,947.55 525.38,953.92 515.38,953.92" fill="#4278b7" stroke="#fff" stroke-width="0.7" stroke-linejoin="miter"/>
<polygon points="531.75,947.55 538.12,941.17 548.12,941.17 554.5,947.55 548.12,953.92 538.12,953.92" fill="#304a9e" stroke="#fff" stroke-width="0.7" stroke-linejoin="miter"/>
<polygon points="554.5,947.55 560.88,941.17 570.88,941.17 577.25,947.55 570.88,953.92 560.88,953.92" fill="#3b67ae" stroke="#fff" stroke-width="0.7" stroke-linejoin="miter"/>
<polygon points="577.25,947.55 583.62,941.17 593.62,941.17 600,947.55 593.62,953.92 583.62,953.92" fill="#304a9e" stroke="#fff" stroke-width="0.7" stroke-linejoin="miter"/>
<polygon points="600,947.55 606.38,941.17 616.38,941.17 622.75,947.55 616.38,953.92 606.38,953.92" fill="#467eba" stroke="#fff" stroke-width="0.7" stroke-linejoin="miter"/>
<polygon points="622.75,947.55 629.12,941.17 639.12,941.17 645.5,947.55 639.12,953.92 629.12,953.92" fill="#5894c6" stroke="#fff" stroke-width="0.7" stroke-linejoin="miter"/>
<polygon points="645.5,947.55 651.88,941.17 661.88,941.17 668.25,947.55 661.88,953.92 651.88,953.92" fill="#7c7e80" stroke="#fff" stroke-width="0.7" stroke-linejoin="miter"/>
<polygon points="668.25,947.55 674.62,941.17 684.62,941.17 691,947.55 684.62,953.92 674.62,953.92" fill="#7c7e80" stroke="#fff" stroke-width="0.7" stroke-linejoin="miter"/>
<polygon points="691,947.55 697.38,941.17 707.38,941.17 713.75,947.55 707.38,953.92 697.38,953.92" fill="#7c7e80" stroke="#fff" stroke-width="0.7" stroke-linejoin="miter"/>
<polygon points="713.75,947.55 720.12,941.17 730.12,941.17 736.5,947.55 730.12,953.92 720.12,953.92" fill="#7c7e80" stroke="#fff" stroke-width="0.7" stroke-linejoin="miter"/>
<polygon points="509,970.3 515.38,963.92 525.38,963.92 531.75,970.3 525.38,976.67 515.38,976.67" fill="#334fa1" stroke="#fff" stroke-width="0.7" stroke-linejoin="miter"/>
<polygon points="531.75,970.3 538.12,963.92 548.12,963.92 554.5,970.3 548.12,976.67 538.12,976.67" fill="#375ba8" stroke="#fff" stroke-width="0.7" stroke-linejoin="miter"/>
<polygon points="554.5,970.3 560.88,963.92 570.88,963.92 577.25,970.3 570.88,976.67 560.88,976.67" fill="#89c1dd" stroke="#fff" stroke-width="0.7" stroke-linejoin="miter"/>
<polygon points="577.25,970.3 583.62,963.92 593.62,963.92 600,970.3 593.62,976.67 583.62,976.67" fill="#9acee3" stroke="#fff" stroke-width="0.7" stroke-linejoin="miter"/>
<polygon points="600,970.3 606.38,963.92 616.38,963.92 622.75,970.3 616.38,976.67 606.38,976.67" fill="#3b67ae" stroke="#fff" stroke-width="0.7" stroke-linejoin="miter"/>
<polygon points="622.75,970.3 629.12,963.92 639.12,963.92 645.5,970.3 639.12,976.67 629.12,976.67" fill="#7c7e80" stroke="#fff" stroke-width="0.7" stroke-linejoin="miter"/>
<polygon points="645.5,970.3 651.88,963.92 661.88,963.92 668.25,970.3 661.88,976.67 651.88,976.67" fill="#3961ab" stroke="#fff" stroke-width="0.7" stroke-linejoin="miter"/>
<polygon points="668.25,970.3 674.62,963.92 684.62,963.92 691,970.3 684.62,976.67 674.62,976.67" fill="#4f88c0" stroke="#fff" stroke-width="0.7" stroke-linejoin="miter"/>
<polygon points="691,970.3 697.38,963.92 707.38,963.92 713.75,970.3 707.38,976.67 697.38,976.67" fill="#9acee3" stroke="#fff" stroke-width="0.7" stroke-linejoin="miter"/>
<polygon points="713.75,970.3 720.12,963.92 730.12,963.92 736.5,970.3 730.12,976.67 720.12,976.67" fill="#7c7e80" stroke="#fff" stroke-width="0.7" stroke-linejoin="miter"/>
<polygon points="531.75,993.05 538.12,986.67 548.12,986.67 554.5,993.05 548.12,999.42 538.12,999.42" fill="#3961ab" stroke="#fff" stroke-width="0.7" stroke-linejoin="miter"/>
<polygon points="554.5,993.05 560.88,986.67 570.88,986.67 577.25,993.05 570.88,999.42 560.88,999.42" fill="#6cacd3" stroke="#fff" stroke-width="0.7" stroke-linejoin="miter"/>
<polygon points="577.25,993.05 583.62,986.67 593.62,986.67 600,993.05 593.62,999.42 583.62,999.42" fill="#7c7e80" stroke="#fff" stroke-width="0.7" stroke-linejoin="miter"/>
<polygon points="600,993.05 606.38,986.67 616.38,986.67 622.75,993.05 616.38,999.42 606.38,999.42" fill="#3e6cb1" stroke="#fff" stroke-width="0.7" stroke-linejoin="miter"/>
<polygon points="622.75,993.05 629.12,986.67 639.12,986.67 645.5,993.05 639.12,999.42 629.12,999.42" fill="#304a9e" stroke="#fff" stroke-width="0.7" stroke-linejoin="miter"/>
<polygon points="645.5,993.05 651.88,986.67 661.88,986.67 668.25,993.05 661.88,999.42 651.88,999.42" fill="#3e6cb1" stroke="#fff" stroke-width="0.7" stroke-linejoin="miter"/>
<polygon points="668.25,993.05 674.62,986.67 684.62,986.67 691,993.05 684.62,999.42 674.62,999.42" fill="#467eba" stroke="#fff" stroke-width="0.7" stroke-linejoin="miter"/>
<polygon points="691,993.05 697.38,986.67 707.38,986.67 713.75,993.05 707.38,999.42 697.38,999.42" fill="#6cacd3" stroke="#fff" stroke-width="0.7" stroke-linejoin="miter"/>
<polygon points="554.5,1015.8 560.88,1009.42 570.88,1009.42 577.25,1015.8 570.88,1022.17 560.88,1022.17" fill="#4072b4" stroke="#fff" stroke-width="0.7" stroke-linejoin="miter"/>
<polygon points="577.25,1015.8 583.62,1009.42 593.62,1009.42 600,1015.8 593.62,1022.17 583.62,1022.17" fill="#3e6cb1" stroke="#fff" stroke-width="0.7" stroke-linejoin="miter"/>
<polygon points="600,1015.8 606.38,1009.42 616.38,1009.42 622.75,1015.8 616.38,1022.17 606.38,1022.17" fill="#467eba" stroke="#fff" stroke-width="0.7" stroke-linejoin="miter"/>
<polygon points="622.75,1015.8 629.12,1009.42 639.12,1009.42 645.5,1015.8 639.12,1022.17 629.12,1022.17" fill="#5894c6" stroke="#fff" stroke-width="0.7" stroke-linejoin="miter"/>
<polygon points="645.5,1015.8 651.88,1009.42 661.88,1009.42 668.25,1015.8 661.88,1022.17 651.88,1022.17" fill="#4f88c0" stroke="#fff" stroke-width="0.7" stroke-linejoin="miter"/>
<polygon points="668.25,1015.8 674.62,1009.42 684.62,1009.42 691,1015.8 684.62,1022.17 674.62,1022.17" fill="#3b67ae" stroke="#fff" stroke-width="0.7" stroke-linejoin="miter"/>
<polygon points="600,1038.55 606.38,1032.17 616.38,1032.17 622.75,1038.55 616.38,1044.92 606.38,1044.92" fill="#7c7e80" stroke="#fff" stroke-width="0.7" stroke-linejoin="miter"/>
<polygon points="622.75,1038.55 629.12,1032.17 639.12,1032.17 645.5,1038.55 639.12,1044.92 629.12,1044.92" fill="#375ba8" stroke="#fff" stroke-width="0.7" stroke-linejoin="miter"/>
<polygon points="645.5,1038.55 651.88,1032.17 661.88,1032.17 668.25,1038.55 661.88,1044.92 651.88,1044.92" fill="#7c7e80" stroke="#fff" stroke-width="0.7" stroke-linejoin="miter"/>
<polygon points="600,1061.3 606.38,1054.92 616.38,1054.92 622.75,1061.3 616.38,1067.67 606.38,1067.67" fill="#3555a4" stroke="#fff" stroke-width="0.7" stroke-linejoin="miter"/>
<polygon points="622.75,1061.3 629.12,1054.92 639.12,1054.92 645.5,1061.3 639.12,1067.67 629.12,1067.67" fill="#3555a4" stroke="#fff" stroke-width="0.7" stroke-linejoin="miter"/>
</g>
<g>
<polygon points="873.5,833.8 879.88,840.17 879.88,850.17 873.5,856.55 867.12,850.17 867.12,840.17" fill="#304a9e" stroke="#fff" stroke-width="0.7" stroke-linejoin="miter"/>
<polygon points="850.75,856.55 857.12,862.92 857.12,872.92 850.75,879.3 844.38,872.92 844.38,862.92" fill="#304a9e" stroke="#fff" stroke-width="0.7" stroke-linejoin="miter"/>
<polygon points="873.5,856.55 879.88,862.92 879.88,872.92 873.5,879.3 867.12,872.92 867.12,862.92" fill="#3e6cb1" stroke="#fff" stroke-width="0.7" stroke-linejoin="miter"/>
<polygon points="828,879.3 834.38,885.67 834.38,895.67 828,902.05 821.62,895.67 821.62,885.67" fill="#304a9e" stroke="#fff" stroke-width="0.7" stroke-linejoin="miter"/>
<polygon points="850.75,879.3 857.12,885.67 857.12,895.67 850.75,902.05 844.38,895.67 844.38,885.67" fill="#375ba8" stroke="#fff" stroke-width="0.7" stroke-linejoin="miter"/>
<polygon points="873.5,879.3 879.88,885.67 879.88,895.67 873.5,902.05 867.12,895.67 867.12,885.67" fill="#3e6cb1" stroke="#fff" stroke-width="0.7" stroke-linejoin="miter"/>
<polygon points="896.25,879.3 902.62,885.67 902.62,895.67 896.25,902.05 889.88,895.67 889.88,885.67" fill="#4f88c0" stroke="#fff" stroke-width="0.7" stroke-linejoin="miter"/>
<polygon points="919,879.3 925.38,885.67 925.38,895.67 919,902.05 912.62,895.67 912.62,885.67" fill="#375ba8" stroke="#fff" stroke-width="0.7" stroke-linejoin="miter"/>
<polygon points="805.25,902.05 811.62,908.42 811.62,918.42 805.25,924.8 798.88,918.42 798.88,908.42" fill="#3e6cb1" stroke="#fff" stroke-width="0.7" stroke-linejoin="miter"/>
<polygon points="828,902.05 834.38,908.42 834.38,918.42 828,924.8 821.62,918.42 821.62,908.42" fill="#4f88c0" stroke="#fff" stroke-width="0.7" stroke-linejoin="miter"/>
<polygon points="850.75,902.05 857.12,908.42 857.12,918.42 850.75,924.8 844.38,918.42 844.38,908.42" fill="#304a9e" stroke="#fff" stroke-width="0.7" stroke-linejoin="miter"/>
<polygon points="896.25,902.05 902.62,908.42 902.62,918.42 896.25,924.8 889.88,918.42 889.88,908.42" fill="#4072b4" stroke="#fff" stroke-width="0.7" stroke-linejoin="miter"/>
<polygon points="919,902.05 925.38,908.42 925.38,918.42 919,924.8 912.62,918.42 912.62,908.42" fill="#375ba8" stroke="#fff" stroke-width="0.7" stroke-linejoin="miter"/>
<polygon points="782.5,924.8 788.88,931.17 788.88,941.17 782.5,947.55 776.12,941.17 776.12,931.17" fill="#334fa1" stroke="#fff" stroke-width="0.7" stroke-linejoin="miter"/>
<polygon points="805.25,924.8 811.62,931.17 811.62,941.17 805.25,947.55 798.88,941.17 798.88,931.17" fill="#4278b7" stroke="#fff" stroke-width="0.7" stroke-linejoin="miter"/>
<polygon points="828,924.8 834.38,931.17 834.38,941.17 828,947.55 821.62,941.17 821.62,931.17" fill="#375ba8" stroke="#fff" stroke-width="0.7" stroke-linejoin="miter"/>
<polygon points="850.75,924.8 857.12,931.17 857.12,941.17 850.75,947.55 844.38,941.17 844.38,931.17" fill="#3e6cb1" stroke="#fff" stroke-width="0.7" stroke-linejoin="miter"/>
<polygon points="896.25,924.8 902.62,931.17 902.62,941.17 896.25,947.55 889.88,941.17 889.88,931.17" fill="#4f88c0" stroke="#fff" stroke-width="0.7" stroke-linejoin="miter"/>
<polygon points="919,924.8 925.38,931.17 925.38,941.17 919,947.55 912.62,941.17 912.62,931.17" fill="#304a9e" stroke="#fff" stroke-width="0.7" stroke-linejoin="miter"/>
<polygon points="964.5,924.8 970.88,931.17 970.88,941.17 964.5,947.55 958.12,941.17 958.12,931.17" fill="#304a9e" stroke="#fff" stroke-width="0.7" stroke-linejoin="miter"/>
<polygon points="759.75,947.55 766.12,953.92 766.12,963.92 759.75,970.3 753.38,963.92 753.38,953.92" fill="#334fa1" stroke="#fff" stroke-width="0.7" stroke-linejoin="miter"/>
<polygon points="782.5,947.55 788.88,953.92 788.88,963.92 782.5,970.3 776.12,963.92 776.12,953.92" fill="#3555a4" stroke="#fff" stroke-width="0.7" stroke-linejoin="miter"/>
<polygon points="805.25,947.55 811.62,953.92 811.62,963.92 805.25,970.3 798.88,963.92 798.88,953.92" fill="#4f88c0" stroke="#fff" stroke-width="0.7" stroke-linejoin="miter"/>
<polygon points="828,947.55 834.38,953.92 834.38,963.92 828,970.3 821.62,963.92 821.62,953.92" fill="#8ec6df" stroke="#fff" stroke-width="0.7" stroke-linejoin="miter"/>
<polygon points="850.75,947.55 857.12,953.92 857.12,963.92 850.75,970.3 844.38,963.92 844.38,953.92" fill="#89c1dd" stroke="#fff" stroke-width="0.7" stroke-linejoin="miter"/>
<polygon points="873.5,947.55 879.88,953.92 879.88,963.92 873.5,970.3 867.12,963.92 867.12,953.92" fill="#7db9d9" stroke="#fff" stroke-width="0.7" stroke-linejoin="miter"/>
<polygon points="896.25,947.55 902.62,953.92 902.62,963.92 896.25,970.3 889.88,963.92 889.88,953.92" fill="#8ec6df" stroke="#fff" stroke-width="0.7" stroke-linejoin="miter"/>
<polygon points="919,947.55 925.38,953.92 925.38,963.92 919,970.3 912.62,963.92 912.62,953.92" fill="#3e6cb1" stroke="#fff" stroke-width="0.7" stroke-linejoin="miter"/>
<polygon points="941.75,947.55 948.12,953.92 948.12,963.92 941.75,970.3 935.38,963.92 935.38,953.92" fill="#5894c6" stroke="#fff" stroke-width="0.7" stroke-linejoin="miter"/>
<polygon points="964.5,947.55 970.88,953.92 970.88,963.92 964.5,970.3 958.12,963.92 958.12,953.92" fill="#fdae61" stroke="#fff" stroke-width="0.7" stroke-linejoin="miter"/>
<polygon points="987.25,947.55 993.62,953.92 993.62,963.92 987.25,970.3 980.88,963.92 980.88,953.92" fill="#f1f2b4" stroke="#fff" stroke-width="0.7" stroke-linejoin="miter"/>
<polygon points="782.5,970.3 788.88,976.67 788.88,986.67 782.5,993.05 776.12,986.67 776.12,976.67" fill="#3555a4" stroke="#fff" stroke-width="0.7" stroke-linejoin="miter"/>
<polygon points="805.25,970.3 811.62,976.67 811.62,986.67 805.25,993.05 798.88,986.67 798.88,976.67" fill="#334fa1" stroke="#fff" stroke-width="0.7" stroke-linejoin="miter"/>
<polygon points="828,970.3 834.38,976.67 834.38,986.67 828,993.05 821.62,986.67 821.62,976.67" fill="#3b67ae" stroke="#fff" stroke-width="0.7" stroke-linejoin="miter"/>
<polygon points="850.75,970.3 857.12,976.67 857.12,986.67 850.75,993.05 844.38,986.67 844.38,976.67" fill="#375ba8" stroke="#fff" stroke-width="0.7" stroke-linejoin="miter"/>
<polygon points="873.5,970.3 879.88,976.67 879.88,986.67 873.5,993.05 867.12,986.67 867.12,976.67" fill="#4f88c0" stroke="#fff" stroke-width="0.7" stroke-linejoin="miter"/>
<polygon points="896.25,970.3 902.62,976.67 902.62,986.67 896.25,993.05 889.88,986.67 889.88,976.67" fill="#8ec6df" stroke="#fff" stroke-width="0.7" stroke-linejoin="miter"/>
<polygon points="919,970.3 925.38,976.67 925.38,986.67 919,993.05 912.62,986.67 912.62,976.67" fill="#3e6cb1" stroke="#fff" stroke-width="0.7" stroke-linejoin="miter"/>
<polygon points="941.75,970.3 948.12,976.67 948.12,986.67 941.75,993.05 935.38,986.67 935.38,976.67" fill="#467eba" stroke="#fff" stroke-width="0.7" stroke-linejoin="miter"/>
<polygon points="964.5,970.3 970.88,976.67 970.88,986.67 964.5,993.05 958.12,986.67 958.12,976.67" fill="#dbecda" stroke="#fff" stroke-width="0.7" stroke-linejoin="miter"/>
<polygon points="805.25,993.05 811.62,999.42 811.62,1009.42 805.25,1015.8 798.88,1009.42 798.88,999.42" fill="#71b1d5" stroke="#fff" stroke-width="0.7" stroke-linejoin="miter"/>
<polygon points="828,993.05 834.38,999.42 834.38,1009.42 828,1015.8 821.62,1009.42 821.62,999.42" fill="#548ec3" stroke="#fff" stroke-width="0.7" stroke-linejoin="miter"/>
<polygon points="850.75,993.05 857.12,999.42 857.12,1009.42 850.75,1015.8 844.38,1009.42 844.38,999.42" fill="#304a9e" stroke="#fff" stroke-width="0.7" stroke-linejoin="miter"/>
<polygon points="873.5,993.05 879.88,999.42 879.88,1009.42 873.5,1015.8 867.12,1009.42 867.12,999.42" fill="#3e6cb1" stroke="#fff" stroke-width="0.7" stroke-linejoin="miter"/>
<polygon points="896.25,993.05 902.62,999.42 902.62,1009.42 896.25,1015.8 889.88,1009.42 889.88,999.42" fill="#abd9e8" stroke="#fff" stroke-width="0.7" stroke-linejoin="miter"/>
<polygon points="919,993.05 925.38,999.42 925.38,1009.42 919,1015.8 912.62,1009.42 912.62,999.42" fill="#304a9e" stroke="#fff" stroke-width="0.7" stroke-linejoin="miter"/>
<polygon points="941.75,993.05 948.12,999.42 948.12,1009.42 941.75,1015.8 935.38,1009.42 935.38,999.42" fill="#5894c6" stroke="#fff" stroke-width="0.7" stroke-linejoin="miter"/>
<polygon points="850.75,1015.8 857.12,1022.17 857.12,1032.17 850.75,1038.55 844.38,1032.17 844.38,1022.17" fill="#3e6cb1" stroke="#fff" stroke-width="0.7" stroke-linejoin="miter"/>
<polygon points="873.5,1015.8 879.88,1022.17 879.88,1032.17 873.5,1038.55 867.12,1032.17 867.12,1022.17" fill="#4f88c0" stroke="#fff" stroke-width="0.7" stroke-linejoin="miter"/>
<polygon points="896.25,1015.8 902.62,1022.17 902.62,1032.17 896.25,1038.55 889.88,1032.17 889.88,1022.17" fill="#375ba8" stroke="#fff" stroke-width="0.7" stroke-linejoin="miter"/>
<polygon points="919,1015.8 925.38,1022.17 925.38,1032.17 919,1038.55 912.62,1032.17 912.62,1022.17" fill="#f5eda9" stroke="#fff" stroke-width="0.7" stroke-linejoin="miter"/>
<polygon points="850.75,1038.55 857.12,1044.92 857.12,1054.92 850.75,1061.3 844.38,1054.92 844.38,1044.92" fill="#304a9e" stroke="#fff" stroke-width="0.7" stroke-linejoin="miter"/>
<polygon points="873.5,1038.55 879.88,1044.92 879.88,1054.92 873.5,1061.3 867.12,1054.92 867.12,1044.92" fill="#3555a4" stroke="#fff" stroke-width="0.7" stroke-linejoin="miter"/>
<polygon points="896.25,1038.55 902.62,1044.92 902.62,1054.92 896.25,1061.3 889.88,1054.92 889.88,1044.92" fill="#4278b7" stroke="#fff" stroke-width="0.7" stroke-linejoin="miter"/>
<polygon points="873.5,1061.3 879.88,1067.67 879.88,1077.67 873.5,1084.05 867.12,1077.67 867.12,1067.67" fill="#a50a2e" stroke="#fff" stroke-width="0.7" stroke-linejoin="miter"/>
<polygon points="850.75,856.55 857.12,850.17 867.12,850.17 873.5,856.55 867.12,862.92 857.12,862.92" fill="#fca85e" stroke="#fff" stroke-width="0.7" stroke-linejoin="miter"/>
<polygon points="828,879.3 834.38,872.92 844.38,872.92 850.75,879.3 844.38,885.67 834.38,885.67" fill="#4b83bd" stroke="#fff" stroke-width="0.7" stroke-linejoin="miter"/>
<polygon points="850.75,879.3 857.12,872.92 867.12,872.92 873.5,879.3 867.12,885.67 857.12,885.67" fill="#4072b4" stroke="#fff" stroke-width="0.7" stroke-linejoin="miter"/>
<polygon points="873.5,879.3 879.88,872.92 889.88,872.92 896.25,879.3 889.88,885.67 879.88,885.67" fill="#77b5d7" stroke="#fff" stroke-width="0.7" stroke-linejoin="miter"/>
<polygon points="896.25,879.3 902.62,872.92 912.62,872.92 919,879.3 912.62,885.67 902.62,885.67" fill="#3b67ae" stroke="#fff" stroke-width="0.7" stroke-linejoin="miter"/>
<polygon points="805.25,902.05 811.62,895.67 821.62,895.67 828,902.05 821.62,908.42 811.62,908.42" fill="#334fa1" stroke="#fff" stroke-width="0.7" stroke-linejoin="miter"/>
<polygon points="828,902.05 834.38,895.67 844.38,895.67 850.75,902.05 844.38,908.42 834.38,908.42" fill="#334fa1" stroke="#fff" stroke-width="0.7" stroke-linejoin="miter"/>
<polygon points="850.75,902.05 857.12,895.67 867.12,895.67 873.5,902.05 867.12,908.42 857.12,908.42" fill="#6cacd3" stroke="#fff" stroke-width="0.7" stroke-linejoin="miter"/>
<polygon points="873.5,902.05 879.88,895.67 889.88,895.67 896.25,902.05 889.88,908.42 879.88,908.42" fill="#d8ebdf" stroke="#fff" stroke-width="0.7" stroke-linejoin="miter"/>
<polygon points="896.25,902.05 902.62,895.67 912.62,895.67 919,902.05 912.62,908.42 902.62,908.42" fill="#addae8" stroke="#fff" stroke-width="0.7" stroke-linejoin="miter"/>
<polygon points="919,902.05 925.38,895.67 935.38,895.67 941.75,902.05 935.38,908.42 925.38,908.42" fill="#4f88c0" stroke="#fff" stroke-width="0.7" stroke-linejoin="miter"/>
<polygon points="782.5,924.8 788.88,918.42 798.88,918.42 805.25,924.8 798.88,931.17 788.88,931.17" fill="#71b1d5" stroke="#fff" stroke-width="0.7" stroke-linejoin="miter"/>
<polygon points="805.25,924.8 811.62,918.42 821.62,918.42 828,924.8 821.62,931.17 811.62,931.17" fill="#fdb86a" stroke="#fff" stroke-width="0.7" stroke-linejoin="miter"/>
<polygon points="828,924.8 834.38,918.42 844.38,918.42 850.75,924.8 844.38,931.17 834.38,931.17" fill="#4f88c0" stroke="#fff" stroke-width="0.7" stroke-linejoin="miter"/>
<polygon points="896.25,924.8 902.62,918.42 912.62,918.42 919,924.8 912.62,931.17 902.62,931.17" fill="#467eba" stroke="#fff" stroke-width="0.7" stroke-linejoin="miter"/>
<polygon points="759.75,947.55 766.12,941.17 776.12,941.17 782.5,947.55 776.12,953.92 766.12,953.92" fill="#375ba8" stroke="#fff" stroke-width="0.7" stroke-linejoin="miter"/>
<polygon points="782.5,947.55 788.88,941.17 798.88,941.17 805.25,947.55 798.88,953.92 788.88,953.92" fill="#3555a4" stroke="#fff" stroke-width="0.7" stroke-linejoin="miter"/>
<polygon points="805.25,947.55 811.62,941.17 821.62,941.17 828,947.55 821.62,953.92 811.62,953.92" fill="#4072b4" stroke="#fff" stroke-width="0.7" stroke-linejoin="miter"/>
<polygon points="828,947.55 834.38,941.17 844.38,941.17 850.75,947.55 844.38,953.92 834.38,953.92" fill="#304a9e" stroke="#fff" stroke-width="0.7" stroke-linejoin="miter"/>
<polygon points="850.75,947.55 857.12,941.17 867.12,941.17 873.5,947.55 867.12,953.92 857.12,953.92" fill="#77b5d7" stroke="#fff" stroke-width="0.7" stroke-linejoin="miter"/>
<polygon points="873.5,947.55 879.88,941.17 889.88,941.17 896.25,947.55 889.88,953.92 879.88,953.92" fill="#4f88c0" stroke="#fff" stroke-width="0.7" stroke-linejoin="miter"/>
<polygon points="896.25,947.55 902.62,941.17 912.62,941.17 919,947.55 912.62,953.92 902.62,953.92" fill="#304a9e" stroke="#fff" stroke-width="0.7" stroke-linejoin="miter"/>
<polygon points="919,947.55 925.38,941.17 935.38,941.17 941.75,947.55 935.38,953.92 925.38,953.92" fill="#4b83bd" stroke="#fff" stroke-width="0.7" stroke-linejoin="miter"/>
<polygon points="941.75,947.55 948.12,941.17 958.12,941.17 964.5,947.55 958.12,953.92 948.12,953.92" fill="#f8874f" stroke="#fff" stroke-width="0.7" stroke-linejoin="miter"/>
<polygon points="964.5,947.55 970.88,941.17 980.88,941.17 987.25,947.55 980.88,953.92 970.88,953.92" fill="#b4dce7" stroke="#fff" stroke-width="0.7" stroke-linejoin="miter"/>
<polygon points="759.75,970.3 766.12,963.92 776.12,963.92 782.5,970.3 776.12,976.67 766.12,976.67" fill="#334fa1" stroke="#fff" stroke-width="0.7" stroke-linejoin="miter"/>
<polygon points="782.5,970.3 788.88,963.92 798.88,963.92 805.25,970.3 798.88,976.67 788.88,976.67" fill="#3555a4" stroke="#fff" stroke-width="0.7" stroke-linejoin="miter"/>
<polygon points="805.25,970.3 811.62,963.92 821.62,963.92 828,970.3 821.62,976.67 811.62,976.67" fill="#467eba" stroke="#fff" stroke-width="0.7" stroke-linejoin="miter"/>
<polygon points="828,970.3 834.38,963.92 844.38,963.92 850.75,970.3 844.38,976.67 834.38,976.67" fill="#addae8" stroke="#fff" stroke-width="0.7" stroke-linejoin="miter"/>
<polygon points="850.75,970.3 857.12,963.92 867.12,963.92 873.5,970.3 867.12,976.67 857.12,976.67" fill="#4072b4" stroke="#fff" stroke-width="0.7" stroke-linejoin="miter"/>
<polygon points="873.5,970.3 879.88,963.92 889.88,963.92 896.25,970.3 889.88,976.67 879.88,976.67" fill="#a50a2e" stroke="#fff" stroke-width="0.7" stroke-linejoin="miter"/>
<polygon points="896.25,970.3 902.62,963.92 912.62,963.92 919,970.3 912.62,976.67 902.62,976.67" fill="#375ba8" stroke="#fff" stroke-width="0.7" stroke-linejoin="miter"/>
<polygon points="919,970.3 925.38,963.92 935.38,963.92 941.75,970.3 935.38,976.67 925.38,976.67" fill="#6cacd3" stroke="#fff" stroke-width="0.7" stroke-linejoin="miter"/>
<polygon points="941.75,970.3 948.12,963.92 958.12,963.92 964.5,970.3 958.12,976.67 948.12,976.67" fill="#dbecda" stroke="#fff" stroke-width="0.7" stroke-linejoin="miter"/>
<polygon points="964.5,970.3 970.88,963.92 980.88,963.92 987.25,970.3 980.88,976.67 970.88,976.67" fill="#fee090" stroke="#fff" stroke-width="0.7" stroke-linejoin="miter"/>
<polygon points="782.5,993.05 788.88,986.67 798.88,986.67 805.25,993.05 798.88,999.42 788.88,999.42" fill="#3555a4" stroke="#fff" stroke-width="0.7" stroke-linejoin="miter"/>
<polygon points="805.25,993.05 811.62,986.67 821.62,986.67 828,993.05 821.62,999.42 811.62,999.42" fill="#77b5d7" stroke="#fff" stroke-width="0.7" stroke-linejoin="miter"/>
<polygon points="828,993.05 834.38,986.67 844.38,986.67 850.75,993.05 844.38,999.42 834.38,999.42" fill="#77b5d7" stroke="#fff" stroke-width="0.7" stroke-linejoin="miter"/>
<polygon points="850.75,993.05 857.12,986.67 867.12,986.67 873.5,993.05 867.12,999.42 857.12,999.42" fill="#4072b4" stroke="#fff" stroke-width="0.7" stroke-linejoin="miter"/>
<polygon points="873.5,993.05 879.88,986.67 889.88,986.67 896.25,993.05 889.88,999.42 879.88,999.42" fill="#334fa1" stroke="#fff" stroke-width="0.7" stroke-linejoin="miter"/>
<polygon points="896.25,993.05 902.62,986.67 912.62,986.67 919,993.05 912.62,999.42 902.62,999.42" fill="#3b67ae" stroke="#fff" stroke-width="0.7" stroke-linejoin="miter"/>
<polygon points="919,993.05 925.38,986.67 935.38,986.67 941.75,993.05 935.38,999.42 925.38,999.42" fill="#4b83bd" stroke="#fff" stroke-width="0.7" stroke-linejoin="miter"/>
<polygon points="941.75,993.05 948.12,986.67 958.12,986.67 964.5,993.05 958.12,999.42 948.12,999.42" fill="#71b1d5" stroke="#fff" stroke-width="0.7" stroke-linejoin="miter"/>
<polygon points="805.25,1015.8 811.62,1009.42 821.62,1009.42 828,1015.8 821.62,1022.17 811.62,1022.17" fill="#71b1d5" stroke="#fff" stroke-width="0.7" stroke-linejoin="miter"/>
<polygon points="828,1015.8 834.38,1009.42 844.38,1009.42 850.75,1015.8 844.38,1022.17 834.38,1022.17" fill="#3b67ae" stroke="#fff" stroke-width="0.7" stroke-linejoin="miter"/>
<polygon points="850.75,1015.8 857.12,1009.42 867.12,1009.42 873.5,1015.8 867.12,1022.17 857.12,1022.17" fill="#304a9e" stroke="#fff" stroke-width="0.7" stroke-linejoin="miter"/>
<polygon points="873.5,1015.8 879.88,1009.42 889.88,1009.42 896.25,1015.8 889.88,1022.17 879.88,1022.17" fill="#548ec3" stroke="#fff" stroke-width="0.7" stroke-linejoin="miter"/>
<polygon points="896.25,1015.8 902.62,1009.42 912.62,1009.42 919,1015.8 912.62,1022.17 902.62,1022.17" fill="#4072b4" stroke="#fff" stroke-width="0.7" stroke-linejoin="miter"/>
<polygon points="919,1015.8 925.38,1009.42 935.38,1009.42 941.75,1015.8 935.38,1022.17 925.38,1022.17" fill="#3961ab" stroke="#fff" stroke-width="0.7" stroke-linejoin="miter"/>
<polygon points="850.75,1038.55 857.12,1032.17 867.12,1032.17 873.5,1038.55 867.12,1044.92 857.12,1044.92" fill="#3e6cb1" stroke="#fff" stroke-width="0.7" stroke-linejoin="miter"/>
<polygon points="873.5,1038.55 879.88,1032.17 889.88,1032.17 896.25,1038.55 889.88,1044.92 879.88,1044.92" fill="#3b67ae" stroke="#fff" stroke-width="0.7" stroke-linejoin="miter"/>
<polygon points="896.25,1038.55 902.62,1032.17 912.62,1032.17 919,1038.55 912.62,1044.92 902.62,1044.92" fill="#eef1b9" stroke="#fff" stroke-width="0.7" stroke-linejoin="miter"/>
<polygon points="850.75,1061.3 857.12,1054.92 867.12,1054.92 873.5,1061.3 867.12,1067.67 857.12,1067.67" fill="#334fa1" stroke="#fff" stroke-width="0.7" stroke-linejoin="miter"/>
<polygon points="873.5,1061.3 879.88,1054.92 889.88,1054.92 896.25,1061.3 889.88,1067.67 879.88,1067.67" fill="#334fa1" stroke="#fff" stroke-width="0.7" stroke-linejoin="miter"/>
</g>
<polygon points="77.5,879.71 83.62,885.7 83.62,895.1 77.5,901.09 71.38,895.1 71.38,885.7" fill="#797d7e" stroke="#000" stroke-width="3.0" stroke-linejoin="miter"/>
<polygon points="691,993.05 697.38,999.42 697.38,1009.42 691,1015.8 684.62,1009.42 684.62,999.42" fill="#7c7e80" stroke="#0b2230" stroke-width="2.6" stroke-linejoin="round"/>
<text x="2.6" y="866.6" font-size="24.5" font-style="italic">e<tspan font-size="15.7" dy="4.1" dx="0">c,</tspan><tspan font-size="15.7" dx="0">ij</tspan></text>
<path d="M41 865 C52 865 55.5 871 58.5 876.5 C61.5 882 64.5 885.5 70.5 887.6" fill="none" stroke="#000" stroke-width="2.5"/>
<text x="707.8" y="1052" font-size="23.85" fill="#000" text-anchor="start" >Targeted</text>
<path d="M698 1007.6 C708 1008.5 710.5 1014 713.5 1020 C716 1025.5 719.5 1029 726 1030.6" fill="none" stroke="#000" stroke-width="2.5"/>
<text x="2.4" y="820.5" font-size="23.85" fill="#000" text-anchor="start" font-weight="bold">d</text>
<text x="30" y="820.5" font-size="23.85">Optimization (<tspan font-style="italic">S</tspan>=5)</text>
<text x="389.4" y="820.5" font-size="23.85" fill="#000" text-anchor="start" font-weight="bold">e</text>
<text x="414.6" y="820.5" font-size="23.85" fill="#000" text-anchor="start" >Healing</text>
<text x="197.6" y="870.7" font-size="23.85" fill="#000" text-anchor="start" >Optimize</text>
<line x1="202" y1="882.9" x2="281.4" y2="882.9" stroke="#000" stroke-width="2.6" />
<polygon points="295.4,882.9 277.8,876.4 280.4,882.9 277.8,889.4" fill="#000" />
<text x="454.4" y="869.7" font-size="23.85" fill="#000" text-anchor="start" >Target</text>
<line x1="445.3" y1="883.2" x2="525.2" y2="883.2" stroke="#000" stroke-width="2.6" />
<polygon points="539.2,883.2 521.6,876.7 524.2,883.2 521.6,889.7" fill="#000" />
<text x="675.2" y="869" font-size="23.85" fill="#000" text-anchor="start" >Re-Optimize</text>
<line x1="696" y1="883.2" x2="776.1" y2="883.2" stroke="#000" stroke-width="2.6" />
<polygon points="790.1,883.2 772.5,876.7 775.1,883.2 772.5,889.7" fill="#000" />
<defs><linearGradient id="cb" x1="0" y1="0" x2="0" y2="1"><stop offset="0%" stop-color="#a50a2e"/><stop offset="10%" stop-color="#d73027"/><stop offset="20%" stop-color="#f46d43"/><stop offset="30%" stop-color="#fdae61"/><stop offset="40%" stop-color="#fee090"/><stop offset="50%" stop-color="#f1f2b4"/><stop offset="60%" stop-color="#d5eae4"/><stop offset="70%" stop-color="#a9d8e8"/><stop offset="80%" stop-color="#6eafd4"/><stop offset="90%" stop-color="#4278b7"/><stop offset="100%" stop-color="#2c3e98"/></linearGradient></defs>
<rect x="248.5" y="1018.0" width="12.4" height="60.2" fill="url(#cb)" stroke="#000" stroke-width="2.6"/>
<line x1="188.2" y1="1049" x2="247.4" y2="1049" stroke="#000" stroke-width="3.8" />
<text x="186.6" y="1043.7" font-size="19.7" fill="#b5122e" text-anchor="start" >Outlier</text>
<text x="240.2" y="1001.3" font-size="21.4" font-style="italic">e<tspan font-size="15.2" dy="5.9" dx="0.7">c,</tspan><tspan font-size="15.2" dx="1.05">ij</tspan></text>
<text x="266.6" y="1033.7" font-size="20.6" fill="#000" text-anchor="start" >25</text>
<text x="266.6" y="1053.7" font-size="20.6">x10<tspan font-size="13.4" dy="-8">-3</tspan></text>
<text x="266.6" y="1077.3" font-size="20.6" fill="#000" text-anchor="start" >5</text>
</svg>
</body></html>
